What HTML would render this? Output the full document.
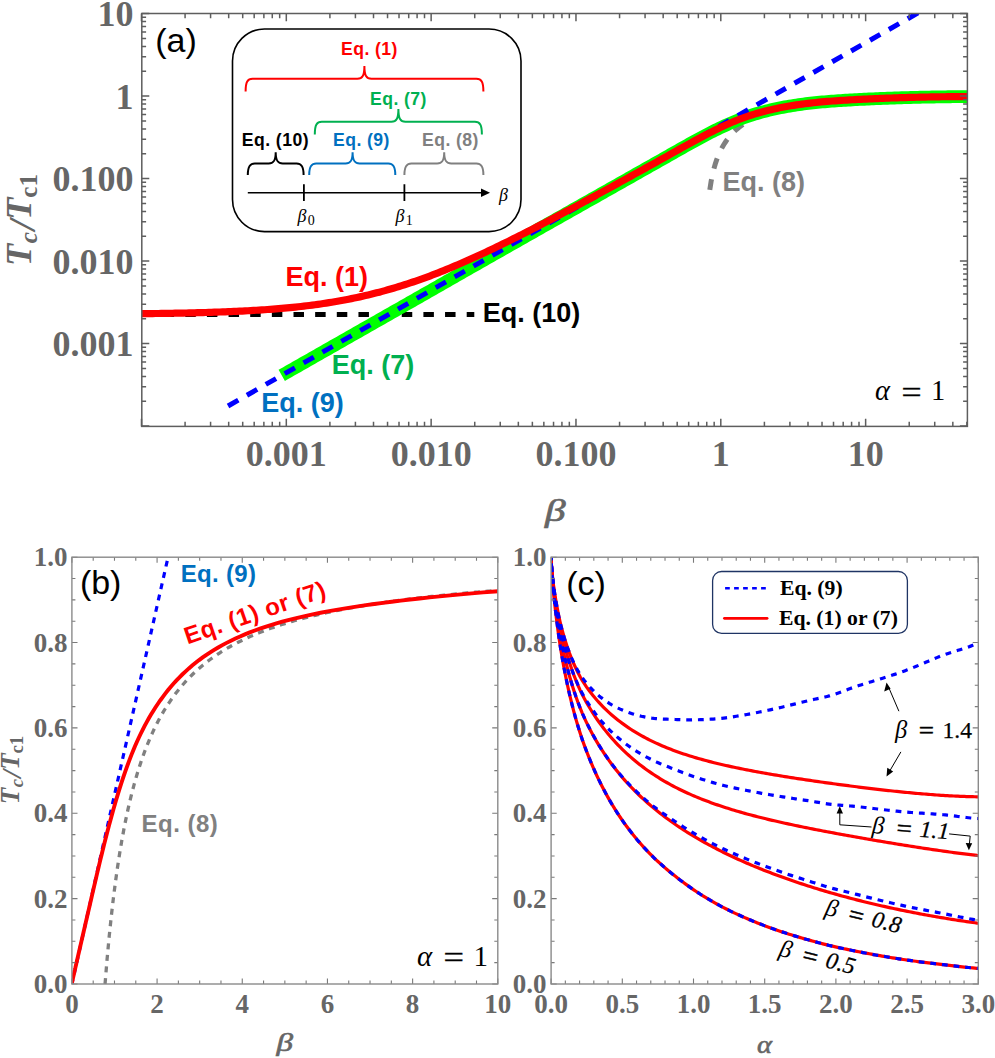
<!DOCTYPE html><html><head><meta charset="utf-8"><style>html,body{margin:0;padding:0;background:#fff;}svg{display:block;}</style></head><body><svg width="995" height="1058" viewBox="0 0 995 1058">
<rect width="995" height="1058" fill="#fff"/>
<defs><clipPath id="ca"><rect x="141.8" y="13.5" width="825.5999999999999" height="412.9"/></clipPath><clipPath id="cb"><rect x="71.9" y="557.2" width="425.9" height="426.79999999999995"/></clipPath><clipPath id="cc"><rect x="551.1" y="557.2" width="427.19999999999993" height="426.79999999999995"/></clipPath></defs>
<g clip-path="url(#ca)" fill="none">
<path d="M141.95,314.39 L474.3,314.39" stroke="#000" stroke-width="5" stroke-dasharray="10.5 11.15"/>
<path d="M709.79,189.80 L711.14,181.27 L712.49,174.52 L713.84,168.95 L715.19,164.22 L716.54,160.13 L717.89,156.54 L719.23,153.34 L720.58,150.46 L721.93,147.85 L723.28,145.47 L724.63,143.28 L725.98,141.26 L727.33,139.39 L728.68,137.65 L730.03,136.02 L731.38,134.50 L732.73,133.06 L734.08,131.72 L735.43,130.45 L736.78,129.24 L738.13,128.10 L739.48,127.02 L740.83,126.00 L742.18,125.02 L743.52,124.09 L744.87,123.20 L746.22,122.35 L747.57,121.53 L748.92,120.76 L750.27,120.01 L751.62,119.30 L752.97,118.61 L754.32,117.95 L755.67,117.32 L757.02,116.71 L758.37,116.12 L759.72,115.56 L761.07,115.01 L762.42,114.49 L763.77,113.98 L765.12,113.49 L766.47,113.02 L767.81,112.57 L769.16,112.12 L770.51,111.70 L771.86,111.29 L773.21,110.89 L774.56,110.50 L775.91,110.13 L777.26,109.76 L778.61,109.41 L779.96,109.07 L781.31,108.74 L782.66,108.42 L784.01,108.11 L785.36,107.81 L786.71,107.52 L788.06,107.23 L789.41,106.96 L790.76,106.69 L792.11,106.43 L793.45,106.17 L794.80,105.93 L796.15,105.69 L797.50,105.46 L798.85,105.23 L800.20,105.01 L801.55,104.80 L802.90,104.59 L804.25,104.38 L805.60,104.19 L806.95,104.00 L808.30,103.81 L809.65,103.63 L811.00,103.45 L812.35,103.28 L813.70,103.11 L815.05,102.94 L816.40,102.78 L817.74,102.63 L819.09,102.48 L820.44,102.33 L821.79,102.18 L823.14,102.04 L824.49,101.91 L825.84,101.77 L827.19,101.64 L828.54,101.52 L829.89,101.39 L831.24,101.27 L832.59,101.15 L833.94,101.04 L835.29,100.93 L836.64,100.82 L837.99,100.71 L839.34,100.61 L840.69,100.50 L842.03,100.40 L843.38,100.31 L844.73,100.21 L846.08,100.12 L847.43,100.03 L848.78,99.94 L850.13,99.86 L851.48,99.77 L852.83,99.69 L854.18,99.61 L855.53,99.53 L856.88,99.46 L858.23,99.38 L859.58,99.31 L860.93,99.24 L862.28,99.17 L863.63,99.10 L864.98,99.03 L866.33,98.97 L867.67,98.91 L869.02,98.84 L870.37,98.78 L871.72,98.72 L873.07,98.67 L874.42,98.61 L875.77,98.55 L877.12,98.50 L878.47,98.45 L879.82,98.40 L881.17,98.35 L882.52,98.30 L883.87,98.25 L885.22,98.20 L886.57,98.16 L887.92,98.11 L889.27,98.07 L890.62,98.02 L891.96,97.98 L893.31,97.94 L894.66,97.90 L896.01,97.86 L897.36,97.82 L898.71,97.79 L900.06,97.75 L901.41,97.71 L902.76,97.68 L904.11,97.64 L905.46,97.61 L906.81,97.58 L908.16,97.55 L909.51,97.52 L910.86,97.48 L912.21,97.45 L913.56,97.43 L914.91,97.40 L916.25,97.37 L917.60,97.34 L918.95,97.31 L920.30,97.29 L921.65,97.26 L923.00,97.24 L924.35,97.21 L925.70,97.19 L927.05,97.17 L928.40,97.14 L929.75,97.12 L931.10,97.10 L932.45,97.08 L933.80,97.06 L935.15,97.04 L936.50,97.02 L937.85,97.00 L939.20,96.98 L940.54,96.96 L941.89,96.94 L943.24,96.92 L944.59,96.90 L945.94,96.89 L947.29,96.87 L948.64,96.85 L949.99,96.84 L951.34,96.82 L952.69,96.81 L954.04,96.79 L955.39,96.78 L956.74,96.76 L958.09,96.75 L959.44,96.73 L960.79,96.72 L962.14,96.71 L963.49,96.69 L964.84,96.68 L966.18,96.67 L967.53,96.66 L968.88,96.64 L970.23,96.63 L971.58,96.62 L972.93,96.61 L974.28,96.60 L975.63,96.59 L976.98,96.58 L978.33,96.57" stroke="#808080" stroke-width="5" stroke-dasharray="10.8 10.8"/>
<path d="M281.75,375.37 L284.08,374.04 L286.40,372.72 L288.73,371.39 L291.06,370.06 L293.39,368.74 L295.72,367.41 L298.05,366.08 L300.38,364.76 L302.71,363.43 L305.04,362.10 L307.37,360.77 L309.70,359.45 L312.03,358.12 L314.36,356.79 L316.69,355.47 L319.02,354.14 L321.35,352.81 L323.68,351.48 L326.01,350.16 L328.34,348.83 L330.67,347.50 L333.00,346.18 L335.33,344.85 L337.66,343.52 L339.99,342.19 L342.32,340.87 L344.65,339.54 L346.98,338.21 L349.31,336.89 L351.64,335.56 L353.97,334.23 L356.30,332.91 L358.63,331.58 L360.96,330.25 L363.29,328.92 L365.62,327.60 L367.94,326.27 L370.27,324.94 L372.60,323.62 L374.93,322.29 L377.26,320.96 L379.59,319.63 L381.92,318.31 L384.25,316.98 L386.58,315.65 L388.91,314.33 L391.24,313.00 L393.57,311.67 L395.90,310.34 L398.23,309.02 L400.56,307.69 L402.89,306.36 L405.22,305.04 L407.55,303.71 L409.88,302.38 L412.21,301.06 L414.54,299.73 L416.87,298.40 L419.20,297.07 L421.53,295.75 L423.86,294.42 L426.19,293.09 L428.52,291.77 L430.85,290.44 L433.18,289.12 L435.51,287.78 L437.84,286.45 L440.17,285.11 L442.50,283.77 L444.83,282.44 L447.16,281.10 L449.48,279.77 L451.81,278.44 L454.14,277.10 L456.47,275.77 L458.80,274.44 L461.13,273.11 L463.46,271.78 L465.79,270.45 L468.12,269.12 L470.45,267.79 L472.78,266.46 L475.11,265.13 L477.44,263.81 L479.77,262.48 L482.10,261.15 L484.43,259.83 L486.76,258.50 L489.09,257.18 L491.42,255.85 L493.75,254.53 L496.08,253.21 L498.41,251.88 L500.74,250.56 L503.07,249.24 L505.40,247.91 L507.73,246.59 L510.06,245.27 L512.39,243.95 L514.72,242.63 L517.05,241.31 L519.38,239.99 L521.71,238.67 L524.04,237.35 L526.37,236.03 L528.69,234.71 L531.02,233.39 L533.35,232.07 L535.68,230.76 L538.01,229.44 L540.34,228.12 L542.67,226.80 L545.00,225.49 L547.33,224.17 L549.66,222.85 L551.99,221.54 L554.32,220.22 L556.65,218.90 L558.98,217.59 L561.31,216.27 L563.64,214.96 L565.97,213.64 L568.30,212.33 L570.63,211.01 L572.96,209.69 L575.29,208.38 L577.62,207.06 L579.95,205.75 L582.28,204.43 L584.61,203.12 L586.94,201.80 L589.27,200.49 L591.60,199.17 L593.93,197.86 L596.26,196.55 L598.59,195.23 L600.92,193.92 L603.25,192.60 L605.58,191.29 L607.91,189.97 L610.23,188.66 L612.56,187.34 L614.89,186.03 L617.22,184.71 L619.55,183.40 L621.88,182.08 L624.21,180.77 L626.54,179.45 L628.87,178.13 L631.20,176.82 L633.53,175.50 L635.86,174.19 L638.19,172.87 L640.52,171.55 L642.85,170.24 L645.18,168.92 L647.51,167.60 L649.84,166.29 L652.17,164.97 L654.50,163.65 L656.83,162.33 L659.16,161.02 L661.49,159.70 L663.82,158.38 L666.15,157.06 L668.48,155.74 L670.81,154.42 L673.14,153.10 L675.47,151.78 L677.80,150.46 L680.13,149.15 L682.46,147.83 L684.79,146.52 L687.12,145.22 L689.45,143.92 L691.77,142.63 L694.10,141.34 L696.43,140.07 L698.76,138.80 L701.09,137.55 L703.42,136.31 L705.75,135.08 L708.08,133.87 L710.41,132.67 L712.74,131.49 L715.07,130.33 L717.40,129.18 L719.73,128.06 L722.06,126.95 L724.39,125.87 L726.72,124.81 L729.05,123.77 L731.38,122.76 L733.71,121.77 L736.04,120.81 L738.37,119.88 L740.70,118.98 L743.03,118.11 L745.36,117.27 L747.69,116.45 L750.02,115.67 L752.35,114.92 L754.68,114.20 L757.01,113.50 L759.34,112.83 L761.67,112.18 L764.00,111.56 L766.33,110.96 L768.66,110.38 L770.99,109.83 L773.31,109.29 L775.64,108.78 L777.97,108.28 L780.30,107.81 L782.63,107.35 L784.96,106.91 L787.29,106.49 L789.62,106.09 L791.95,105.70 L794.28,105.33 L796.61,104.98 L798.94,104.64 L801.27,104.32 L803.60,104.01 L805.93,103.71 L808.26,103.43 L810.59,103.16 L812.92,102.90 L815.25,102.65 L817.58,102.42 L819.91,102.19 L822.24,101.98 L824.57,101.77 L826.90,101.58 L829.23,101.39 L831.56,101.21 L833.89,101.04 L836.22,100.87 L838.55,100.71 L840.88,100.56 L843.21,100.41 L845.54,100.26 L847.87,100.12 L850.20,99.99 L852.53,99.85 L854.85,99.72 L857.18,99.60 L859.51,99.47 L861.84,99.35 L864.17,99.24 L866.50,99.12 L868.83,99.01 L871.16,98.90 L873.49,98.80 L875.82,98.70 L878.15,98.60 L880.48,98.50 L882.81,98.41 L885.14,98.32 L887.47,98.23 L889.80,98.14 L892.13,98.06 L894.46,97.98 L896.79,97.90 L899.12,97.83 L901.45,97.75 L903.78,97.68 L906.11,97.62 L908.44,97.55 L910.77,97.49 L913.10,97.43 L915.43,97.37 L917.76,97.31 L920.09,97.26 L922.42,97.21 L924.75,97.16 L927.08,97.11 L929.41,97.06 L931.74,97.02 L934.07,96.98 L936.39,96.94 L938.72,96.90 L941.05,96.86 L943.38,96.83 L945.71,96.80 L948.04,96.77 L950.37,96.74 L952.70,96.71 L955.03,96.68 L957.36,96.66 L959.69,96.63 L962.02,96.61 L964.35,96.59 L966.68,96.57 L969.01,96.55 L971.34,96.54 L973.67,96.52 L976.00,96.51 L978.33,96.49" stroke="#00ff00" stroke-width="12.8" stroke-linecap="butt"/>
<path d="M228.04,405.96 L923.26,9.94" stroke="#0000ff" stroke-width="5" stroke-dasharray="11.8 9.93"/>
<path d="M141.48,313.69 L144.28,313.66 L147.08,313.63 L149.88,313.59 L152.68,313.56 L155.47,313.52 L158.27,313.48 L161.07,313.44 L163.87,313.40 L166.67,313.35 L169.47,313.31 L172.27,313.26 L175.07,313.21 L177.86,313.16 L180.66,313.10 L183.46,313.04 L186.26,312.98 L189.06,312.92 L191.86,312.85 L194.66,312.79 L197.46,312.72 L200.26,312.64 L203.05,312.56 L205.85,312.48 L208.65,312.40 L211.45,312.31 L214.25,312.22 L217.05,312.12 L219.85,312.02 L222.65,311.92 L225.44,311.81 L228.24,311.70 L231.04,311.58 L233.84,311.46 L236.64,311.33 L239.44,311.20 L242.24,311.06 L245.04,310.92 L247.84,310.77 L250.63,310.61 L253.43,310.45 L256.23,310.28 L259.03,310.10 L261.83,309.92 L264.63,309.73 L267.43,309.53 L270.23,309.32 L273.02,309.11 L275.82,308.89 L278.62,308.65 L281.42,308.41 L284.22,308.17 L287.02,307.91 L289.82,307.64 L292.62,307.36 L295.42,307.07 L298.21,306.77 L301.01,306.46 L303.81,306.14 L306.61,305.80 L309.41,305.46 L312.21,305.10 L315.01,304.73 L317.81,304.35 L320.61,303.95 L323.40,303.54 L326.20,303.12 L329.00,302.68 L331.80,302.23 L334.60,301.76 L337.40,301.28 L340.20,300.79 L343.00,300.27 L345.79,299.75 L348.59,299.20 L351.39,298.65 L354.19,298.07 L356.99,297.48 L359.79,296.87 L362.59,296.25 L365.39,295.60 L368.19,294.95 L370.98,294.27 L373.78,293.58 L376.58,292.86 L379.38,292.14 L382.18,291.39 L384.98,290.62 L387.78,289.84 L390.58,289.04 L393.37,288.23 L396.17,287.39 L398.97,286.54 L401.77,285.67 L404.57,284.78 L407.37,283.88 L410.17,282.95 L412.97,282.01 L415.77,281.06 L418.56,280.08 L421.36,279.09 L424.16,278.08 L426.96,277.06 L429.76,276.02 L432.56,274.97 L435.36,273.89 L438.16,272.80 L440.95,271.69 L443.75,270.56 L446.55,269.42 L449.35,268.27 L452.15,267.10 L454.95,265.92 L457.75,264.73 L460.55,263.53 L463.35,262.31 L466.14,261.08 L468.94,259.83 L471.74,258.58 L474.54,257.32 L477.34,256.04 L480.14,254.75 L482.94,253.46 L485.74,252.15 L488.53,250.83 L491.33,249.51 L494.13,248.17 L496.93,246.83 L499.73,245.47 L502.53,244.11 L505.33,242.74 L508.13,241.37 L510.93,239.98 L513.72,238.59 L516.52,237.19 L519.32,235.78 L522.12,234.37 L524.92,232.95 L527.72,231.53 L530.52,230.10 L533.32,228.66 L536.11,227.22 L538.91,225.77 L541.71,224.32 L544.51,222.87 L547.31,221.40 L550.11,219.94 L552.91,218.47 L555.71,216.99 L558.51,215.51 L561.30,214.03 L564.10,212.54 L566.90,211.05 L569.70,209.56 L572.50,208.06 L575.30,206.56 L578.10,205.06 L580.90,203.55 L583.69,202.04 L586.49,200.53 L589.29,199.01 L592.09,197.50 L594.89,195.98 L597.69,194.45 L600.49,192.93 L603.29,191.40 L606.09,189.87 L608.88,188.34 L611.68,186.81 L614.48,185.27 L617.28,183.73 L620.08,182.19 L622.88,180.65 L625.68,179.11 L628.48,177.56 L631.27,176.02 L634.07,174.47 L636.87,172.92 L639.67,171.37 L642.47,169.81 L645.27,168.26 L648.07,166.70 L650.87,165.15 L653.67,163.59 L656.46,162.03 L659.26,160.47 L662.06,158.90 L664.86,157.34 L667.66,155.77 L670.46,154.21 L673.26,152.64 L676.06,151.07 L678.86,149.50 L681.65,147.94 L684.45,146.38 L687.25,144.82 L690.05,143.28 L692.85,141.74 L695.65,140.22 L698.45,138.71 L701.25,137.21 L704.04,135.74 L706.84,134.28 L709.64,132.84 L712.44,131.43 L715.24,130.04 L718.04,128.67 L720.84,127.34 L723.64,126.03 L726.44,124.76 L729.23,123.52 L732.03,122.31 L734.83,121.15 L737.63,120.02 L740.43,118.93 L743.23,117.89 L746.03,116.89 L748.83,115.93 L751.62,115.01 L754.42,114.14 L757.22,113.31 L760.02,112.51 L762.82,111.75 L765.62,111.02 L768.42,110.32 L771.22,109.65 L774.02,109.02 L776.81,108.41 L779.61,107.83 L782.41,107.28 L785.21,106.76 L788.01,106.26 L790.81,105.78 L793.61,105.33 L796.41,104.91 L799.20,104.50 L802.00,104.12 L804.80,103.75 L807.60,103.41 L810.40,103.08 L813.20,102.77 L816.00,102.48 L818.80,102.20 L821.60,101.94 L824.39,101.69 L827.19,101.46 L829.99,101.24 L832.79,101.02 L835.59,100.82 L838.39,100.63 L841.19,100.44 L843.99,100.27 L846.78,100.10 L849.58,99.93 L852.38,99.77 L855.18,99.62 L857.98,99.46 L860.78,99.32 L863.58,99.18 L866.38,99.04 L869.18,98.91 L871.97,98.78 L874.77,98.65 L877.57,98.53 L880.37,98.42 L883.17,98.31 L885.97,98.20 L888.77,98.09 L891.57,97.99 L894.36,97.90 L897.16,97.81 L899.96,97.72 L902.76,97.63 L905.56,97.55 L908.36,97.47 L911.16,97.39 L913.96,97.32 L916.76,97.25 L919.55,97.19 L922.35,97.13 L925.15,97.07 L927.95,97.01 L930.75,96.96 L933.55,96.90 L936.35,96.86 L939.15,96.81 L941.94,96.77 L944.74,96.73 L947.54,96.69 L950.34,96.65 L953.14,96.62 L955.94,96.59 L958.74,96.56 L961.54,96.53 L964.34,96.51 L967.13,96.49 L969.93,96.46 L972.73,96.45 L975.53,96.43 L978.33,96.41" stroke="#ff0000" stroke-width="7.2"/>
</g>
<g clip-path="url(#cb)" fill="none">
<path d="M105.04,984.00 L107.12,958.78 L109.20,936.38 L111.28,916.34 L113.36,898.32 L115.44,882.02 L117.52,867.20 L119.60,853.68 L121.68,841.29 L123.76,829.89 L125.84,819.37 L127.92,809.63 L130.00,800.59 L132.08,792.18 L134.16,784.33 L136.25,776.98 L138.33,770.10 L140.41,763.63 L142.49,757.55 L144.57,751.81 L146.65,746.39 L148.73,741.27 L150.81,736.42 L152.89,731.81 L154.97,727.44 L157.05,723.28 L159.13,719.32 L161.21,715.54 L163.29,711.94 L165.38,708.49 L167.46,705.20 L169.54,702.04 L171.62,699.02 L173.70,696.12 L175.78,693.34 L177.86,690.67 L179.94,688.10 L182.02,685.62 L184.10,683.24 L186.18,680.95 L188.26,678.73 L190.34,676.60 L192.42,674.54 L194.51,672.55 L196.59,670.62 L198.67,668.76 L200.75,666.96 L202.83,665.21 L204.91,663.52 L206.99,661.89 L209.07,660.30 L211.15,658.76 L213.23,657.26 L215.31,655.81 L217.39,654.40 L219.47,653.03 L221.55,651.70 L223.64,650.40 L225.72,649.14 L227.80,647.91 L229.88,646.72 L231.96,645.56 L234.04,644.42 L236.12,643.32 L238.20,642.24 L240.28,641.19 L242.36,640.16 L244.44,639.16 L246.52,638.19 L248.60,637.23 L250.68,636.30 L252.76,635.39 L254.85,634.50 L256.93,633.63 L259.01,632.78 L261.09,631.95 L263.17,631.14 L265.25,630.34 L267.33,629.56 L269.41,628.80 L271.49,628.05 L273.57,627.32 L275.65,626.61 L277.73,625.91 L279.81,625.22 L281.89,624.54 L283.98,623.88 L286.06,623.24 L288.14,622.60 L290.22,621.98 L292.30,621.37 L294.38,620.77 L296.46,620.18 L298.54,619.60 L300.62,619.03 L302.70,618.47 L304.78,617.93 L306.86,617.39 L308.94,616.86 L311.02,616.34 L313.11,615.83 L315.19,615.33 L317.27,614.84 L319.35,614.35 L321.43,613.88 L323.51,613.41 L325.59,612.95 L327.67,612.49 L329.75,612.05 L331.83,611.61 L333.91,611.17 L335.99,610.75 L338.07,610.33 L340.15,609.92 L342.24,609.51 L344.32,609.11 L346.40,608.72 L348.48,608.33 L350.56,607.95 L352.64,607.57 L354.72,607.20 L356.80,606.84 L358.88,606.48 L360.96,606.12 L363.04,605.77 L365.12,605.43 L367.20,605.09 L369.28,604.75 L371.37,604.42 L373.45,604.10 L375.53,603.78 L377.61,603.46 L379.69,603.15 L381.77,602.84 L383.85,602.53 L385.93,602.23 L388.01,601.94 L390.09,601.65 L392.17,601.36 L394.25,601.07 L396.33,600.79 L398.41,600.51 L400.49,600.24 L402.58,599.97 L404.66,599.70 L406.74,599.44 L408.82,599.17 L410.90,598.92 L412.98,598.66 L415.06,598.41 L417.14,598.16 L419.22,597.92 L421.30,597.67 L423.38,597.44 L425.46,597.20 L427.54,596.96 L429.62,596.73 L431.71,596.50 L433.79,596.28 L435.87,596.06 L437.95,595.83 L440.03,595.62 L442.11,595.40 L444.19,595.19 L446.27,594.98 L448.35,594.77 L450.43,594.56 L452.51,594.36 L454.59,594.15 L456.67,593.95 L458.75,593.76 L460.84,593.56 L462.92,593.37 L465.00,593.18 L467.08,592.99 L469.16,592.80 L471.24,592.61 L473.32,592.43 L475.40,592.25 L477.48,592.07 L479.56,591.89 L481.64,591.71 L483.72,591.54 L485.80,591.37 L487.88,591.20 L489.97,591.03 L492.05,590.86 L494.13,590.69 L496.21,590.53 L498.29,590.37 L500.37,590.21 L502.45,590.05 L504.53,589.89 L506.61,589.73 L508.69,589.58 L510.77,589.42 L512.85,589.27 L514.93,589.12 L517.01,588.97 L519.10,588.82" stroke="#808080" stroke-width="3.3" stroke-dasharray="6 5.6"/>
<path d="M71.90,984.00 L169.86,549.13" stroke="#0000ff" stroke-width="3.2" stroke-dasharray="5.85 5.75" stroke-dashoffset="1.22"/>
<path d="M71.90,983.04 L72.01,982.56 L72.11,982.09 L72.22,981.62 L72.33,981.15 L72.34,981.09 L72.35,981.04 L72.36,980.98 L72.38,980.92 L72.39,980.86 L72.40,980.80 L72.42,980.73 L72.43,980.67 L72.45,980.60 L72.46,980.53 L72.48,980.46 L72.50,980.39 L72.51,980.31 L72.53,980.23 L72.55,980.15 L72.57,980.07 L72.58,979.99 L72.60,979.90 L72.62,979.81 L72.64,979.72 L72.67,979.63 L72.69,979.53 L72.71,979.43 L72.73,979.33 L72.76,979.22 L72.78,979.12 L72.81,979.01 L72.83,978.89 L72.86,978.77 L72.88,978.65 L72.91,978.53 L72.94,978.40 L72.97,978.27 L73.00,978.14 L73.03,978.00 L73.06,977.86 L73.10,977.71 L73.13,977.56 L73.17,977.40 L73.20,977.24 L73.24,977.08 L73.28,976.91 L73.32,976.74 L73.36,976.56 L73.40,976.38 L73.44,976.19 L73.48,976.00 L73.53,975.80 L73.57,975.60 L73.62,975.39 L73.67,975.17 L73.72,974.95 L73.77,974.72 L73.83,974.49 L73.88,974.25 L73.94,974.00 L73.99,973.75 L74.05,973.48 L74.11,973.22 L74.18,972.94 L74.24,972.66 L74.31,972.36 L74.38,972.06 L74.45,971.76 L74.52,971.44 L74.59,971.11 L74.67,970.78 L74.75,970.43 L74.83,970.08 L74.91,969.71 L75.00,969.34 L75.08,968.95 L75.17,968.56 L75.27,968.15 L75.36,967.73 L75.46,967.31 L75.56,966.86 L75.66,966.41 L75.77,965.94 L75.88,965.46 L75.99,964.97 L76.11,964.46 L76.23,963.94 L76.35,963.40 L76.48,962.85 L76.61,962.29 L76.74,961.70 L76.88,961.11 L77.02,960.49 L77.16,959.86 L77.31,959.21 L77.47,958.54 L77.62,957.85 L77.79,957.14 L77.95,956.42 L78.12,955.67 L78.30,954.90 L78.48,954.11 L78.67,953.30 L78.86,952.47 L79.06,951.61 L79.26,950.73 L79.47,949.82 L79.68,948.89 L79.90,947.93 L80.13,946.94 L80.36,945.93 L80.60,944.89 L80.85,943.82 L81.10,942.72 L81.36,941.58 L81.63,940.42 L81.91,939.22 L82.19,937.99 L82.48,936.73 L82.78,935.43 L83.09,934.09 L83.41,932.71 L83.74,931.30 L84.07,929.84 L84.42,928.35 L84.77,926.81 L85.13,925.23 L85.51,923.61 L85.89,921.93 L86.29,920.22 L86.70,918.45 L87.12,916.63 L87.55,914.76 L87.99,912.84 L88.45,910.87 L88.92,908.84 L89.40,906.75 L89.90,904.60 L90.41,902.39 L90.93,900.12 L91.47,897.78 L92.02,895.38 L92.59,892.91 L93.18,890.37 L93.78,887.77 L94.40,885.09 L95.04,882.34 L95.70,879.53 L96.37,876.64 L97.06,873.68 L97.78,870.65 L98.51,867.55 L99.26,864.38 L100.04,861.14 L100.84,857.83 L101.66,854.45 L102.50,851.00 L103.37,847.49 L104.26,843.90 L105.17,840.26 L106.12,836.55 L107.09,832.78 L108.08,828.96 L109.11,825.07 L110.16,821.14 L111.25,817.15 L112.36,813.12 L113.51,809.04 L114.69,804.92 L115.90,800.77 L117.14,796.58 L118.43,792.37 L119.74,788.14 L121.10,783.88 L122.49,779.62 L123.93,775.35 L125.40,771.08 L126.92,766.82 L128.48,762.57 L130.08,758.34 L131.73,754.14 L133.42,749.97 L135.17,745.85 L136.96,741.77 L138.80,737.73 L140.70,733.75 L142.65,729.81 L144.65,725.93 L146.71,722.10 L148.83,718.32 L151.01,714.59 L153.25,710.92 L155.56,707.30 L157.93,703.74 L160.36,700.23 L162.87,696.78 L165.45,693.39 L168.10,690.05 L170.82,686.77 L173.63,683.55 L176.51,680.40 L179.47,677.31 L182.52,674.27 L185.65,671.31 L188.88,668.40 L192.19,665.56 L195.60,662.79 L199.10,660.08 L202.71,657.43 L206.41,654.84 L210.22,652.32 L214.14,649.87 L218.17,647.47 L222.32,645.14 L226.58,642.87 L230.96,640.66 L235.47,638.52 L240.10,636.43 L244.87,634.40 L249.77,632.43 L254.81,630.51 L259.99,628.65 L265.32,626.84 L270.80,625.09 L276.43,623.39 L282.23,621.73 L288.19,620.13 L294.32,618.57 L300.62,617.05 L307.10,615.58 L313.76,614.15 L320.61,612.76 L327.66,611.41 L334.91,610.10 L342.36,608.81 L350.02,607.56 L357.90,606.34 L366.00,605.15 L374.33,603.98 L382.90,602.84 L391.71,601.72 L400.77,600.61 L410.09,599.53 L419.67,598.46 L429.53,597.41 L439.66,596.37 L450.08,595.36 L460.79,594.36 L471.81,593.37 L483.14,592.41 L494.79,591.46 L506.77,590.52 L519.10,589.61" stroke="#ff0000" stroke-width="3.9"/>
</g>
<g clip-path="url(#cc)" fill="none">
<path d="M551.10,557.20 L551.34,563.80 L551.58,568.10 L551.82,571.80 L552.07,575.17 L552.31,578.31 L552.55,581.27 L552.79,584.11 L553.03,586.83 L553.27,589.47 L553.51,592.04 L553.75,594.52 L554.00,596.94 L554.24,599.29 L554.48,601.58 L554.72,603.81 L554.96,606.00 L555.20,608.14 L555.44,610.23 L555.69,612.28 L555.93,614.29 L556.17,616.27 L556.41,618.21 L556.65,620.12 L556.89,622.02 L557.13,623.91 L557.38,625.78 L557.62,627.64 L557.86,629.48 L558.10,631.29 L558.34,633.08 L558.58,634.83 L558.82,636.55 L559.06,638.24 L559.31,639.88 L559.55,641.48 L559.79,643.06 L560.03,644.62 L560.27,646.16 L560.51,647.68 L560.75,649.19 L561.00,650.67 L561.24,652.14 L561.48,653.59 L561.72,655.02 L561.96,656.44 L562.20,657.84 L562.44,659.22 L562.69,660.59 L562.93,661.95 L563.17,663.29 L563.41,664.61 L563.65,665.93 L563.89,667.23 L564.13,668.51 L564.37,669.78 L564.62,671.04 L564.86,672.29 L565.10,673.52 L565.34,674.75 L567.45,684.97 L569.56,694.41 L571.67,703.19 L573.78,711.39 L575.89,719.06 L578.01,726.27 L580.12,733.04 L582.23,739.39 L584.34,745.37 L586.45,751.03 L588.56,756.41 L590.67,761.57 L592.78,766.54 L594.89,771.35 L597.00,775.97 L599.12,780.42 L601.23,784.69 L603.34,788.82 L605.45,792.80 L607.56,796.64 L609.67,800.35 L611.78,803.95 L613.89,807.43 L616.00,810.80 L618.11,814.07 L620.22,817.25 L622.34,820.33 L624.45,823.33 L626.56,826.24 L628.67,829.07 L630.78,831.82 L632.89,834.50 L635.00,837.11 L637.11,839.65 L639.22,842.13 L641.33,844.54 L643.45,846.89 L645.56,849.18 L647.67,851.41 L649.78,853.59 L651.89,855.72 L654.00,857.78 L656.11,859.79 L658.22,861.75 L660.33,863.67 L662.44,865.54 L664.55,867.38 L666.67,869.18 L668.78,870.94 L670.89,872.69 L673.00,874.40 L675.11,876.09 L677.22,877.76 L679.33,879.40 L681.44,881.01 L683.55,882.59 L685.66,884.15 L687.78,885.67 L689.89,887.17 L692.00,888.63 L694.11,890.07 L696.22,891.47 L698.33,892.86 L700.44,894.22 L702.55,895.55 L704.66,896.87 L706.77,898.16 L708.88,899.42 L711.00,900.66 L713.11,901.88 L715.22,903.08 L717.33,904.26 L719.44,905.41 L721.55,906.54 L723.66,907.64 L725.77,908.73 L727.88,909.79 L729.99,910.83 L732.11,911.85 L734.22,912.86 L736.33,913.85 L738.44,914.82 L740.55,915.78 L742.66,916.72 L744.77,917.65 L746.88,918.56 L748.99,919.46 L751.10,920.34 L753.21,921.22 L755.33,922.07 L757.44,922.92 L759.55,923.75 L761.66,924.57 L763.77,925.38 L765.88,926.17 L767.99,926.95 L770.10,927.72 L772.21,928.48 L774.32,929.23 L776.44,929.97 L778.55,930.69 L780.66,931.41 L782.77,932.11 L784.88,932.80 L786.99,933.49 L789.10,934.16 L791.21,934.83 L793.32,935.48 L795.43,936.13 L797.55,936.77 L799.66,937.39 L801.77,938.01 L803.88,938.62 L805.99,939.23 L808.10,939.82 L810.21,940.41 L812.32,941.00 L814.43,941.58 L816.54,942.16 L818.65,942.73 L820.77,943.29 L822.88,943.84 L824.99,944.39 L827.10,944.91 L829.21,945.43 L831.32,945.93 L833.43,946.43 L835.54,946.91 L837.65,947.38 L839.76,947.84 L841.88,948.29 L843.99,948.74 L846.10,949.18 L848.21,949.61 L850.32,950.04 L852.43,950.47 L854.54,950.89 L856.65,951.31 L858.76,951.73 L860.87,952.15 L862.98,952.57 L865.10,952.98 L867.21,953.38 L869.32,953.78 L871.43,954.18 L873.54,954.57 L875.65,954.95 L877.76,955.33 L879.87,955.70 L881.98,956.07 L884.09,956.43 L886.21,956.79 L888.32,957.14 L890.43,957.49 L892.54,957.84 L894.65,958.17 L896.76,958.51 L898.87,958.83 L900.98,959.16 L903.09,959.47 L905.20,959.79 L907.31,960.09 L909.43,960.39 L911.54,960.69 L913.65,960.98 L915.76,961.27 L917.87,961.55 L919.98,961.83 L922.09,962.10 L924.20,962.37 L926.31,962.64 L928.42,962.91 L930.54,963.17 L932.65,963.43 L934.76,963.69 L936.87,963.94 L938.98,964.19 L941.09,964.44 L943.20,964.69 L945.31,964.94 L947.42,965.19 L949.53,965.43 L951.64,965.68 L953.76,965.92 L955.87,966.16 L957.98,966.39 L960.09,966.63 L962.20,966.86 L964.31,967.08 L966.42,967.30 L968.53,967.52 L970.64,967.73 L972.75,967.94 L974.87,968.14 L976.98,968.34 L979.09,968.46 L981.20,968.46 L983.31,968.46 L985.42,968.46" stroke="#ff0000" stroke-width="3.2"/>
<path d="M551.10,557.20 L551.34,563.43 L551.58,567.39 L551.82,570.77 L552.07,573.82 L552.31,576.65 L552.55,579.30 L552.79,581.83 L553.03,584.26 L553.27,586.60 L553.51,588.87 L553.75,591.07 L554.00,593.19 L554.24,595.26 L554.48,597.27 L554.72,599.22 L554.96,601.13 L555.20,602.99 L555.44,604.82 L555.69,606.60 L555.93,608.34 L556.17,610.05 L556.41,611.73 L556.65,613.38 L556.89,615.03 L557.13,616.66 L557.38,618.29 L557.62,619.90 L557.86,621.49 L558.10,623.05 L558.34,624.60 L558.58,626.11 L558.82,627.59 L559.06,629.03 L559.31,630.44 L559.55,631.80 L559.79,633.15 L560.03,634.48 L560.27,635.79 L560.51,637.09 L560.75,638.36 L561.00,639.62 L561.24,640.87 L561.48,642.09 L561.72,643.31 L561.96,644.50 L562.20,645.69 L562.44,646.86 L562.69,648.01 L562.93,649.15 L563.17,650.28 L563.41,651.40 L563.65,652.50 L563.89,653.59 L564.13,654.67 L564.37,655.74 L564.62,656.80 L564.86,657.84 L565.10,658.88 L565.34,659.90 L567.45,668.42 L569.56,676.26 L571.67,683.52 L573.78,690.26 L575.89,696.56 L578.01,702.45 L580.12,707.95 L582.23,713.06 L584.34,717.84 L586.45,722.34 L588.56,726.62 L590.67,730.71 L592.78,734.65 L594.89,738.45 L597.00,742.09 L599.12,745.60 L601.23,748.97 L603.34,752.23 L605.45,755.38 L607.56,758.43 L609.67,761.38 L611.78,764.25 L613.89,767.04 L616.00,769.74 L618.11,772.37 L620.22,774.93 L622.34,777.42 L624.45,779.85 L626.56,782.21 L628.67,784.52 L630.78,786.77 L632.89,788.96 L635.00,791.10 L637.11,793.19 L639.22,795.24 L641.33,797.24 L643.45,799.19 L645.56,801.11 L647.67,802.98 L649.78,804.82 L651.89,806.61 L654.00,808.37 L656.11,810.10 L658.22,811.80 L660.33,813.46 L662.44,815.09 L664.55,816.69 L666.67,818.26 L668.78,819.80 L670.89,821.32 L673.00,822.81 L675.11,824.27 L677.22,825.71 L679.33,827.13 L681.44,828.52 L683.55,829.90 L685.66,831.25 L687.78,832.57 L689.89,833.88 L692.00,835.17 L694.11,836.44 L696.22,837.69 L698.33,838.92 L700.44,840.14 L702.55,841.33 L704.66,842.51 L706.77,843.68 L708.88,844.82 L711.00,845.96 L713.11,847.07 L715.22,848.18 L717.33,849.26 L719.44,850.34 L721.55,851.40 L723.66,852.45 L725.77,853.48 L727.88,854.50 L729.99,855.51 L732.11,856.51 L734.22,857.49 L736.33,858.46 L738.44,859.42 L740.55,860.37 L742.66,861.31 L744.77,862.24 L746.88,863.16 L748.99,864.07 L751.10,864.96 L753.21,865.85 L755.33,866.73 L757.44,867.59 L759.55,868.45 L761.66,869.30 L763.77,870.14 L765.88,870.97 L767.99,871.80 L770.10,872.61 L772.21,873.41 L774.32,874.21 L776.44,875.00 L778.55,875.78 L780.66,876.55 L782.77,877.32 L784.88,878.07 L786.99,878.82 L789.10,879.56 L791.21,880.30 L793.32,881.02 L795.43,881.74 L797.55,882.46 L799.66,883.16 L801.77,883.86 L803.88,884.55 L805.99,885.24 L808.10,885.92 L810.21,886.59 L812.32,887.25 L814.43,887.91 L816.54,888.56 L818.65,889.21 L820.77,889.85 L822.88,890.48 L824.99,891.11 L827.10,891.73 L829.21,892.35 L831.32,892.96 L833.43,893.56 L835.54,894.16 L837.65,894.75 L839.76,895.34 L841.88,895.92 L843.99,896.49 L846.10,897.06 L848.21,897.63 L850.32,898.19 L852.43,898.74 L854.54,899.29 L856.65,899.83 L858.76,900.37 L860.87,900.90 L862.98,901.43 L865.10,901.95 L867.21,902.46 L869.32,902.98 L871.43,903.48 L873.54,903.98 L875.65,904.48 L877.76,904.97 L879.87,905.46 L881.98,905.94 L884.09,906.42 L886.21,906.89 L888.32,907.36 L890.43,907.82 L892.54,908.28 L894.65,908.73 L896.76,909.18 L898.87,909.62 L900.98,910.06 L903.09,910.50 L905.20,910.93 L907.31,911.35 L909.43,911.78 L911.54,912.19 L913.65,912.61 L915.76,913.01 L917.87,913.42 L919.98,913.82 L922.09,914.21 L924.20,914.60 L926.31,914.99 L928.42,915.37 L930.54,915.75 L932.65,916.12 L934.76,916.49 L936.87,916.86 L938.98,917.22 L941.09,917.58 L943.20,917.93 L945.31,918.28 L947.42,918.63 L949.53,918.97 L951.64,919.31 L953.76,919.64 L955.87,919.97 L957.98,920.30 L960.09,920.62 L962.20,920.94 L964.31,921.25 L966.42,921.56 L968.53,921.87 L970.64,922.17 L972.75,922.47 L974.87,922.77 L976.98,923.06 L979.09,923.24 L981.20,923.24 L983.31,923.24 L985.42,923.24" stroke="#ff0000" stroke-width="3.2"/>
<path d="M551.10,557.20 L551.34,563.76 L551.58,567.58 L551.82,570.75 L552.07,573.57 L552.31,576.15 L552.55,578.55 L552.79,580.82 L553.03,582.99 L553.27,585.08 L553.51,587.09 L553.75,589.04 L554.00,590.91 L554.24,592.73 L554.48,594.49 L554.72,596.21 L554.96,597.87 L555.20,599.50 L555.44,601.09 L555.69,602.64 L555.93,604.15 L556.17,605.64 L556.41,607.09 L556.65,608.53 L556.89,609.95 L557.13,611.38 L557.38,612.79 L557.62,614.19 L557.86,615.58 L558.10,616.94 L558.34,618.29 L558.58,619.60 L558.82,620.89 L559.06,622.14 L559.31,623.35 L559.55,624.53 L559.79,625.69 L560.03,626.84 L560.27,627.97 L560.51,629.08 L560.75,630.18 L561.00,631.26 L561.24,632.33 L561.48,633.39 L561.72,634.43 L561.96,635.46 L562.20,636.48 L562.44,637.49 L562.69,638.48 L562.93,639.46 L563.17,640.43 L563.41,641.39 L563.65,642.34 L563.89,643.28 L564.13,644.21 L564.37,645.13 L564.62,646.03 L564.86,646.93 L565.10,647.82 L565.34,648.70 L567.45,656.03 L569.56,662.78 L571.67,669.02 L573.78,674.83 L575.89,680.26 L578.01,685.34 L580.12,690.08 L582.23,694.46 L584.34,698.55 L586.45,702.40 L588.56,706.05 L590.67,709.54 L592.78,712.91 L594.89,716.16 L597.00,719.28 L599.12,722.27 L601.23,725.16 L603.34,727.94 L605.45,730.63 L607.56,733.22 L609.67,735.74 L611.78,738.18 L613.89,740.55 L616.00,742.84 L618.11,745.07 L620.22,747.23 L622.34,749.33 L624.45,751.37 L626.56,753.35 L628.67,755.28 L630.78,757.15 L632.89,758.97 L635.00,760.74 L637.11,762.47 L639.22,764.15 L641.33,765.78 L643.45,767.38 L645.56,768.93 L647.67,770.44 L649.78,771.92 L651.89,773.36 L654.00,774.76 L656.11,776.13 L658.22,777.46 L660.33,778.77 L662.44,780.04 L664.55,781.28 L666.67,782.49 L668.78,783.68 L670.89,784.83 L673.00,785.97 L675.11,787.07 L677.22,788.15 L679.33,789.21 L681.44,790.24 L683.55,791.25 L685.66,792.24 L687.78,793.21 L689.89,794.16 L692.00,795.09 L694.11,796.00 L696.22,796.89 L698.33,797.76 L700.44,798.61 L702.55,799.45 L704.66,800.27 L706.77,801.08 L708.88,801.87 L711.00,802.64 L713.11,803.40 L715.22,804.15 L717.33,804.88 L719.44,805.60 L721.55,806.30 L723.66,807.00 L725.77,807.68 L727.88,808.35 L729.99,809.01 L732.11,809.66 L734.22,810.30 L736.33,810.92 L738.44,811.54 L740.55,812.15 L742.66,812.75 L744.77,813.34 L746.88,813.92 L748.99,814.49 L751.10,815.06 L753.21,815.62 L755.33,816.16 L757.44,816.71 L759.55,817.24 L761.66,817.77 L763.77,818.29 L765.88,818.81 L767.99,819.32 L770.10,819.82 L772.21,820.32 L774.32,820.81 L776.44,821.29 L778.55,821.77 L780.66,822.25 L782.77,822.72 L784.88,823.19 L786.99,823.65 L789.10,824.11 L791.21,824.56 L793.32,825.01 L795.43,825.46 L797.55,825.90 L799.66,826.34 L801.77,826.77 L803.88,827.20 L805.99,827.63 L808.10,828.05 L810.21,828.48 L812.32,828.89 L814.43,829.31 L816.54,829.72 L818.65,830.13 L820.77,830.54 L822.88,830.95 L824.99,831.35 L827.10,831.75 L829.21,832.15 L831.32,832.55 L833.43,832.94 L835.54,833.33 L837.65,833.72 L839.76,834.11 L841.88,834.50 L843.99,834.88 L846.10,835.27 L848.21,835.65 L850.32,836.03 L852.43,836.40 L854.54,836.78 L856.65,837.15 L858.76,837.53 L860.87,837.90 L862.98,838.27 L865.10,838.64 L867.21,839.00 L869.32,839.37 L871.43,839.73 L873.54,840.10 L875.65,840.46 L877.76,840.82 L879.87,841.17 L881.98,841.53 L884.09,841.88 L886.21,842.24 L888.32,842.59 L890.43,842.94 L892.54,843.29 L894.65,843.64 L896.76,843.98 L898.87,844.32 L900.98,844.67 L903.09,845.01 L905.20,845.35 L907.31,845.68 L909.43,846.02 L911.54,846.35 L913.65,846.68 L915.76,847.01 L917.87,847.34 L919.98,847.66 L922.09,847.99 L924.20,848.31 L926.31,848.63 L928.42,848.95 L930.54,849.26 L932.65,849.57 L934.76,849.88 L936.87,850.19 L938.98,850.49 L941.09,850.79 L943.20,851.09 L945.31,851.39 L947.42,851.68 L949.53,851.97 L951.64,852.26 L953.76,852.55 L955.87,852.83 L957.98,853.11 L960.09,853.38 L962.20,853.65 L964.31,853.92 L966.42,854.18 L968.53,854.44 L970.64,854.70 L972.75,854.95 L974.87,855.20 L976.98,855.44 L979.09,855.59 L981.20,855.59 L983.31,855.59 L985.42,855.59" stroke="#ff0000" stroke-width="3.2"/>
<path d="M551.10,557.20 L551.34,563.38 L551.58,566.97 L551.82,569.96 L552.07,572.60 L552.31,575.01 L552.55,577.25 L552.79,579.37 L553.03,581.38 L553.27,583.32 L553.51,585.19 L553.75,586.99 L554.00,588.73 L554.24,590.41 L554.48,592.03 L554.72,593.61 L554.96,595.14 L555.20,596.64 L555.44,598.09 L555.69,599.51 L555.93,600.90 L556.17,602.26 L556.41,603.59 L556.65,604.90 L556.89,606.20 L557.13,607.50 L557.38,608.79 L557.62,610.07 L557.86,611.34 L558.10,612.58 L558.34,613.81 L558.58,615.01 L558.82,616.18 L559.06,617.31 L559.31,618.41 L559.55,619.47 L559.79,620.52 L560.03,621.55 L560.27,622.57 L560.51,623.57 L560.75,624.55 L561.00,625.53 L561.24,626.49 L561.48,627.43 L561.72,628.36 L561.96,629.29 L562.20,630.19 L562.44,631.09 L562.69,631.98 L562.93,632.85 L563.17,633.72 L563.41,634.57 L563.65,635.41 L563.89,636.24 L564.13,637.07 L564.37,637.88 L564.62,638.68 L564.86,639.48 L565.10,640.26 L565.34,641.04 L567.45,647.49 L569.56,653.37 L571.67,658.78 L573.78,663.78 L575.89,668.42 L578.01,672.72 L580.12,676.70 L582.23,680.34 L584.34,683.70 L586.45,686.82 L588.56,689.76 L590.67,692.56 L592.78,695.24 L594.89,697.83 L597.00,700.29 L599.12,702.65 L601.23,704.90 L603.34,707.06 L605.45,709.14 L607.56,711.14 L609.67,713.08 L611.78,714.94 L613.89,716.75 L616.00,718.49 L618.11,720.18 L620.22,721.81 L622.34,723.39 L624.45,724.92 L626.56,726.40 L628.67,727.84 L630.78,729.23 L632.89,730.58 L635.00,731.89 L637.11,733.16 L639.22,734.39 L641.33,735.59 L643.45,736.76 L645.56,737.89 L647.67,738.99 L649.78,740.06 L651.89,741.10 L654.00,742.12 L656.11,743.10 L658.22,744.06 L660.33,745.00 L662.44,745.91 L664.55,746.80 L666.67,747.67 L668.78,748.51 L670.89,749.34 L673.00,750.14 L675.11,750.93 L677.22,751.69 L679.33,752.44 L681.44,753.17 L683.55,753.89 L685.66,754.59 L687.78,755.27 L689.89,755.94 L692.00,756.59 L694.11,757.23 L696.22,757.86 L698.33,758.47 L700.44,759.07 L702.55,759.66 L704.66,760.24 L706.77,760.80 L708.88,761.36 L711.00,761.90 L713.11,762.44 L715.22,762.96 L717.33,763.48 L719.44,763.99 L721.55,764.48 L723.66,764.97 L725.77,765.45 L727.88,765.93 L729.99,766.39 L732.11,766.85 L734.22,767.30 L736.33,767.75 L738.44,768.19 L740.55,768.62 L742.66,769.04 L744.77,769.46 L746.88,769.88 L748.99,770.29 L751.10,770.69 L753.21,771.09 L755.33,771.48 L757.44,771.87 L759.55,772.25 L761.66,772.63 L763.77,773.01 L765.88,773.38 L767.99,773.75 L770.10,774.11 L772.21,774.47 L774.32,774.83 L776.44,775.18 L778.55,775.53 L780.66,775.88 L782.77,776.22 L784.88,776.56 L786.99,776.90 L789.10,777.24 L791.21,777.57 L793.32,777.90 L795.43,778.22 L797.55,778.55 L799.66,778.87 L801.77,779.19 L803.88,779.51 L805.99,779.82 L808.10,780.14 L810.21,780.45 L812.32,780.75 L814.43,781.06 L816.54,781.37 L818.65,781.67 L820.77,781.97 L822.88,782.27 L824.99,782.56 L827.10,782.86 L829.21,783.15 L831.32,783.44 L833.43,783.73 L835.54,784.02 L837.65,784.30 L839.76,784.59 L841.88,784.87 L843.99,785.15 L846.10,785.42 L848.21,785.70 L850.32,785.97 L852.43,786.25 L854.54,786.52 L856.65,786.78 L858.76,787.05 L860.87,787.31 L862.98,787.58 L865.10,787.84 L867.21,788.09 L869.32,788.35 L871.43,788.60 L873.54,788.85 L875.65,789.10 L877.76,789.35 L879.87,789.59 L881.98,789.83 L884.09,790.07 L886.21,790.31 L888.32,790.54 L890.43,790.77 L892.54,791.00 L894.65,791.22 L896.76,791.44 L898.87,791.66 L900.98,791.88 L903.09,792.09 L905.20,792.30 L907.31,792.51 L909.43,792.71 L911.54,792.91 L913.65,793.10 L915.76,793.30 L917.87,793.48 L919.98,793.67 L922.09,793.85 L924.20,794.02 L926.31,794.20 L928.42,794.36 L930.54,794.53 L932.65,794.69 L934.76,794.84 L936.87,794.99 L938.98,795.14 L941.09,795.28 L943.20,795.41 L945.31,795.54 L947.42,795.66 L949.53,795.78 L951.64,795.90 L953.76,796.01 L955.87,796.11 L957.98,796.20 L960.09,796.29 L962.20,796.38 L964.31,796.46 L966.42,796.53 L968.53,796.59 L970.64,796.65 L972.75,796.70 L974.87,796.75 L976.98,796.79 L979.09,796.81 L981.20,796.81 L983.31,796.81 L985.42,796.81" stroke="#ff0000" stroke-width="3.2"/>
<path d="M551.10,557.20 L551.34,563.80 L551.58,568.10 L551.82,571.80 L552.07,575.17 L552.31,578.31 L552.55,581.27 L552.79,584.11 L553.03,586.83 L553.27,589.47 L553.51,592.04 L553.75,594.52 L554.00,596.94 L554.24,599.29 L554.48,601.58 L554.72,603.81 L554.96,606.00 L555.20,608.14 L555.44,610.23 L555.69,612.28 L555.93,614.29 L556.17,616.27 L556.41,618.21 L556.65,620.12 L556.89,622.02 L557.13,623.91 L557.38,625.78 L557.62,627.64 L557.86,629.48 L558.10,631.29 L558.34,633.08 L558.58,634.83 L558.82,636.55 L559.06,638.24 L559.31,639.88 L559.55,641.48 L559.79,643.06 L560.03,644.62 L560.27,646.16 L560.51,647.68 L560.75,649.19 L561.00,650.67 L561.24,652.14 L561.48,653.59 L561.72,655.02 L561.96,656.44 L562.20,657.84 L562.44,659.22 L562.69,660.59 L562.93,661.95 L563.17,663.29 L563.41,664.61 L563.65,665.93 L563.89,667.23 L564.13,668.51 L564.37,669.78 L564.62,671.04 L564.86,672.29 L565.10,673.52 L565.34,674.75 L567.45,684.97 L569.56,694.41 L571.67,703.19 L573.78,711.39 L575.89,719.06 L578.01,726.27 L580.12,733.04 L582.23,739.39 L584.34,745.37 L586.45,751.03 L588.56,756.41 L590.67,761.57 L592.78,766.54 L594.89,771.35 L597.00,775.97 L599.12,780.42 L601.23,784.69 L603.34,788.82 L605.45,792.80 L607.56,796.64 L609.67,800.35 L611.78,803.95 L613.89,807.43 L616.00,810.80 L618.11,814.07 L620.22,817.25 L622.34,820.33 L624.45,823.33 L626.56,826.24 L628.67,829.07 L630.78,831.82 L632.89,834.50 L635.00,837.11 L637.11,839.65 L639.22,842.13 L641.33,844.54 L643.45,846.89 L645.56,849.18 L647.67,851.41 L649.78,853.59 L651.89,855.72 L654.00,857.78 L656.11,859.79 L658.22,861.75 L660.33,863.67 L662.44,865.54 L664.55,867.38 L666.67,869.18 L668.78,870.94 L670.89,872.69 L673.00,874.40 L675.11,876.09 L677.22,877.76 L679.33,879.40 L681.44,881.01 L683.55,882.59 L685.66,884.15 L687.78,885.67 L689.89,887.17 L692.00,888.63 L694.11,890.07 L696.22,891.47 L698.33,892.86 L700.44,894.22 L702.55,895.55 L704.66,896.87 L706.77,898.16 L708.88,899.42 L711.00,900.66 L713.11,901.88 L715.22,903.08 L717.33,904.26 L719.44,905.41 L721.55,906.54 L723.66,907.64 L725.77,908.73 L727.88,909.79 L729.99,910.83 L732.11,911.85 L734.22,912.86 L736.33,913.85 L738.44,914.82 L740.55,915.78 L742.66,916.72 L744.77,917.65 L746.88,918.56 L748.99,919.46 L751.10,920.34 L753.21,921.22 L755.33,922.07 L757.44,922.92 L759.55,923.75 L761.66,924.57 L763.77,925.38 L765.88,926.17 L767.99,926.95 L770.10,927.72 L772.21,928.48 L774.32,929.23 L776.44,929.97 L778.55,930.69 L780.66,931.41 L782.77,932.11 L784.88,932.80 L786.99,933.49 L789.10,934.16 L791.21,934.83 L793.32,935.48 L795.43,936.13 L797.55,936.77 L799.66,937.39 L801.77,938.01 L803.88,938.62 L805.99,939.23 L808.10,939.82 L810.21,940.41 L812.32,941.00 L814.43,941.58 L816.54,942.16 L818.65,942.73 L820.77,943.29 L822.88,943.84 L824.99,944.39 L827.10,944.91 L829.21,945.43 L831.32,945.93 L833.43,946.43 L835.54,946.91 L837.65,947.38 L839.76,947.84 L841.88,948.29 L843.99,948.74 L846.10,949.18 L848.21,949.61 L850.32,950.04 L852.43,950.47 L854.54,950.89 L856.65,951.31 L858.76,951.73 L860.87,952.15 L862.98,952.57 L865.10,952.98 L867.21,953.38 L869.32,953.78 L871.43,954.18 L873.54,954.57 L875.65,954.95 L877.76,955.33 L879.87,955.70 L881.98,956.07 L884.09,956.43 L886.21,956.79 L888.32,957.14 L890.43,957.49 L892.54,957.84 L894.65,958.17 L896.76,958.51 L898.87,958.83 L900.98,959.16 L903.09,959.47 L905.20,959.79 L907.31,960.09 L909.43,960.39 L911.54,960.69 L913.65,960.98 L915.76,961.27 L917.87,961.55 L919.98,961.83 L922.09,962.10 L924.20,962.37 L926.31,962.64 L928.42,962.91 L930.54,963.17 L932.65,963.43 L934.76,963.69 L936.87,963.94 L938.98,964.19 L941.09,964.44 L943.20,964.69 L945.31,964.94 L947.42,965.19 L949.53,965.43 L951.64,965.68 L953.76,965.92 L955.87,966.16 L957.98,966.39 L960.09,966.63 L962.20,966.86 L964.31,967.08 L966.42,967.30 L968.53,967.52 L970.64,967.73 L972.75,967.94 L974.87,968.14 L976.98,968.34 L979.09,968.46 L981.20,968.46 L983.31,968.46 L985.42,968.46" stroke="#0000ff" stroke-width="3.2" stroke-dasharray="5.8 5.9" stroke-dashoffset="5.7"/>
<path d="M551.10,557.20 L551.34,563.47 L551.58,567.43 L551.82,570.82 L552.07,573.87 L552.31,576.69 L552.55,579.34 L552.79,581.87 L553.03,584.29 L553.27,586.63 L553.51,588.90 L553.75,591.10 L554.00,593.22 L554.24,595.28 L554.48,597.29 L554.72,599.24 L554.96,601.15 L555.20,603.01 L555.44,604.83 L555.69,606.61 L555.93,608.35 L556.17,610.06 L556.41,611.74 L556.65,613.39 L556.89,615.03 L557.13,616.67 L557.38,618.29 L557.62,619.90 L557.86,621.48 L558.10,623.05 L558.34,624.59 L558.58,626.10 L558.82,627.58 L559.06,629.02 L559.31,630.43 L559.55,631.79 L559.79,633.14 L560.03,634.47 L560.27,635.78 L560.51,637.07 L560.75,638.35 L561.00,639.60 L561.24,640.85 L561.48,642.07 L561.72,643.29 L561.96,644.48 L562.20,645.66 L562.44,646.83 L562.69,647.99 L562.93,649.13 L563.17,650.26 L563.41,651.37 L563.65,652.47 L563.89,653.56 L564.13,654.64 L564.37,655.71 L564.62,656.77 L564.86,657.81 L565.10,658.84 L565.34,659.87 L567.45,668.38 L569.56,676.22 L571.67,683.46 L573.78,690.19 L575.89,696.47 L578.01,702.33 L580.12,707.82 L582.23,712.93 L584.34,717.70 L586.45,722.20 L588.56,726.46 L590.67,730.54 L592.78,734.47 L594.89,738.28 L597.00,741.94 L599.12,745.45 L601.23,748.84 L603.34,752.09 L605.45,755.23 L607.56,758.26 L609.67,761.19 L611.78,764.02 L613.89,766.76 L616.00,769.42 L618.11,772.00 L620.22,774.51 L622.34,776.95 L624.45,779.32 L626.56,781.62 L628.67,783.86 L630.78,786.05 L632.89,788.17 L635.00,790.25 L637.11,792.27 L639.22,794.24 L641.33,796.16 L643.45,798.03 L645.56,799.86 L647.67,801.64 L649.78,803.39 L651.89,805.08 L654.00,806.73 L656.11,808.34 L658.22,809.90 L660.33,811.43 L662.44,812.93 L664.55,814.40 L666.67,815.85 L668.78,817.29 L670.89,818.71 L673.00,820.12 L675.11,821.52 L677.22,822.91 L679.33,824.28 L681.44,825.65 L683.55,826.99 L685.66,828.32 L687.78,829.62 L689.89,830.91 L692.00,832.17 L694.11,833.40 L696.22,834.62 L698.33,835.83 L700.44,837.02 L702.55,838.19 L704.66,839.35 L706.77,840.50 L708.88,841.63 L711.00,842.74 L713.11,843.83 L715.22,844.91 L717.33,845.97 L719.44,847.01 L721.55,848.04 L723.66,849.04 L725.77,850.03 L727.88,850.99 L729.99,851.94 L732.11,852.88 L734.22,853.80 L736.33,854.71 L738.44,855.61 L740.55,856.51 L742.66,857.39 L744.77,858.26 L746.88,859.13 L748.99,859.98 L751.10,860.82 L753.21,861.66 L755.33,862.49 L757.44,863.31 L759.55,864.12 L761.66,864.92 L763.77,865.72 L765.88,866.50 L767.99,867.28 L770.10,868.05 L772.21,868.82 L774.32,869.57 L776.44,870.32 L778.55,871.06 L780.66,871.80 L782.77,872.53 L784.88,873.25 L786.99,873.97 L789.10,874.68 L791.21,875.38 L793.32,876.08 L795.43,876.77 L797.55,877.46 L799.66,878.14 L801.77,878.82 L803.88,879.49 L805.99,880.16 L808.10,880.82 L810.21,881.49 L812.32,882.17 L814.43,882.84 L816.54,883.52 L818.65,884.20 L820.77,884.87 L822.88,885.53 L824.99,886.17 L827.10,886.81 L829.21,887.42 L831.32,888.01 L833.43,888.59 L835.54,889.15 L837.65,889.70 L839.76,890.23 L841.88,890.76 L843.99,891.28 L846.10,891.80 L848.21,892.31 L850.32,892.83 L852.43,893.34 L854.54,893.86 L856.65,894.39 L858.76,894.92 L860.87,895.47 L862.98,896.01 L865.10,896.55 L867.21,897.09 L869.32,897.62 L871.43,898.15 L873.54,898.68 L875.65,899.20 L877.76,899.72 L879.87,900.24 L881.98,900.75 L884.09,901.26 L886.21,901.77 L888.32,902.27 L890.43,902.76 L892.54,903.25 L894.65,903.74 L896.76,904.22 L898.87,904.69 L900.98,905.16 L903.09,905.63 L905.20,906.08 L907.31,906.53 L909.43,906.97 L911.54,907.40 L913.65,907.83 L915.76,908.25 L917.87,908.67 L919.98,909.09 L922.09,909.50 L924.20,909.91 L926.31,910.31 L928.42,910.72 L930.54,911.12 L932.65,911.53 L934.76,911.93 L936.87,912.34 L938.98,912.74 L941.09,913.15 L943.20,913.57 L945.31,913.99 L947.42,914.41 L949.53,914.84 L951.64,915.27 L953.76,915.70 L955.87,916.13 L957.98,916.56 L960.09,916.99 L962.20,917.41 L964.31,917.83 L966.42,918.24 L968.53,918.64 L970.64,919.03 L972.75,919.41 L974.87,919.79 L976.98,920.15 L979.09,920.37 L981.20,920.37 L983.31,920.37 L985.42,920.37" stroke="#0000ff" stroke-width="3.2" stroke-dasharray="5.8 5.9" stroke-dashoffset="3.6"/>
<path d="M551.10,557.20 L551.34,563.24 L551.58,566.98 L551.82,570.15 L552.07,572.98 L552.31,575.59 L552.55,578.03 L552.79,580.35 L553.03,582.56 L553.27,584.70 L553.51,586.76 L553.75,588.76 L554.00,590.68 L554.24,592.55 L554.48,594.36 L554.72,596.12 L554.96,597.83 L555.20,599.50 L555.44,601.13 L555.69,602.72 L555.93,604.28 L556.17,605.80 L556.41,607.29 L556.65,608.76 L556.89,610.22 L557.13,611.67 L557.38,613.12 L557.62,614.55 L557.86,615.96 L558.10,617.36 L558.34,618.73 L558.58,620.07 L558.82,621.37 L559.06,622.65 L559.31,623.88 L559.55,625.08 L559.79,626.26 L560.03,627.42 L560.27,628.56 L560.51,629.69 L560.75,630.80 L561.00,631.90 L561.24,632.98 L561.48,634.05 L561.72,635.10 L561.96,636.13 L562.20,637.16 L562.44,638.17 L562.69,639.17 L562.93,640.15 L563.17,641.13 L563.41,642.09 L563.65,643.04 L563.89,643.98 L564.13,644.90 L564.37,645.82 L564.62,646.72 L564.86,647.62 L565.10,648.50 L565.34,649.38 L567.45,656.63 L569.56,663.24 L571.67,669.31 L573.78,674.90 L575.89,680.07 L578.01,684.86 L580.12,689.31 L582.23,693.38 L584.34,697.15 L586.45,700.66 L588.56,703.96 L590.67,707.09 L592.78,710.09 L594.89,713.00 L597.00,715.77 L599.12,718.41 L601.23,720.94 L603.34,723.35 L605.45,725.66 L607.56,727.88 L609.67,730.01 L611.78,732.05 L613.89,734.01 L616.00,735.90 L618.11,737.73 L620.22,739.49 L622.34,741.19 L624.45,742.83 L626.56,744.42 L628.67,745.95 L630.78,747.44 L632.89,748.87 L635.00,750.26 L637.11,751.60 L639.22,752.90 L641.33,754.16 L643.45,755.37 L645.56,756.55 L647.67,757.69 L649.78,758.79 L651.89,759.85 L654.00,760.87 L656.11,761.84 L658.22,762.78 L660.33,763.68 L662.44,764.56 L664.55,765.42 L666.67,766.26 L668.78,767.10 L670.89,767.93 L673.00,768.76 L675.11,769.59 L677.22,770.42 L679.33,771.24 L681.44,772.06 L683.55,772.86 L685.66,773.65 L687.78,774.43 L689.89,775.19 L692.00,775.93 L694.11,776.65 L696.22,777.35 L698.33,778.05 L700.44,778.74 L702.55,779.41 L704.66,780.08 L706.77,780.74 L708.88,781.38 L711.00,782.01 L713.11,782.63 L715.22,783.23 L717.33,783.82 L719.44,784.39 L721.55,784.94 L723.66,785.48 L725.77,786.00 L727.88,786.50 L729.99,786.98 L732.11,787.45 L734.22,787.91 L736.33,788.36 L738.44,788.81 L740.55,789.25 L742.66,789.68 L744.77,790.11 L746.88,790.53 L748.99,790.94 L751.10,791.35 L753.21,791.75 L755.33,792.15 L757.44,792.54 L759.55,792.93 L761.66,793.31 L763.77,793.69 L765.88,794.06 L767.99,794.42 L770.10,794.78 L772.21,795.14 L774.32,795.49 L776.44,795.84 L778.55,796.18 L780.66,796.52 L782.77,796.86 L784.88,797.19 L786.99,797.52 L789.10,797.85 L791.21,798.17 L793.32,798.49 L795.43,798.81 L797.55,799.13 L799.66,799.44 L801.77,799.75 L803.88,800.06 L805.99,800.37 L808.10,800.68 L810.21,801.01 L812.32,801.36 L814.43,801.72 L816.54,802.08 L818.65,802.45 L820.77,802.81 L822.88,803.17 L824.99,803.51 L827.10,803.82 L829.21,804.11 L831.32,804.38 L833.43,804.61 L835.54,804.82 L837.65,805.01 L839.76,805.18 L841.88,805.35 L843.99,805.50 L846.10,805.66 L848.21,805.82 L850.32,805.98 L852.43,806.15 L854.54,806.33 L856.65,806.53 L858.76,806.76 L860.87,807.00 L862.98,807.26 L865.10,807.51 L867.21,807.76 L869.32,808.02 L871.43,808.27 L873.54,808.53 L875.65,808.78 L877.76,809.03 L879.87,809.28 L881.98,809.53 L884.09,809.77 L886.21,810.01 L888.32,810.25 L890.43,810.49 L892.54,810.72 L894.65,810.95 L896.76,811.17 L898.87,811.39 L900.98,811.60 L903.09,811.80 L905.20,811.99 L907.31,812.16 L909.43,812.33 L911.54,812.49 L913.65,812.64 L915.76,812.79 L917.87,812.93 L919.98,813.06 L922.09,813.20 L924.20,813.33 L926.31,813.47 L928.42,813.60 L930.54,813.74 L932.65,813.89 L934.76,814.03 L936.87,814.19 L938.98,814.35 L941.09,814.52 L943.20,814.72 L945.31,814.94 L947.42,815.17 L949.53,815.41 L951.64,815.67 L953.76,815.94 L955.87,816.21 L957.98,816.48 L960.09,816.75 L962.20,817.02 L964.31,817.27 L966.42,817.52 L968.53,817.76 L970.64,817.97 L972.75,818.17 L974.87,818.35 L976.98,818.50 L979.09,818.58 L981.20,818.58 L983.31,818.58 L985.42,818.58" stroke="#0000ff" stroke-width="3.2" stroke-dasharray="5.8 5.9" stroke-dashoffset="2.6"/>
<path d="M551.10,557.20 L551.34,563.07 L551.58,566.64 L551.82,569.64 L552.07,572.31 L552.31,574.75 L552.55,577.04 L552.79,579.19 L553.03,581.25 L553.27,583.23 L553.51,585.14 L553.75,586.98 L554.00,588.75 L554.24,590.46 L554.48,592.12 L554.72,593.73 L554.96,595.30 L555.20,596.82 L555.44,598.30 L555.69,599.75 L555.93,601.16 L556.17,602.54 L556.41,603.89 L556.65,605.21 L556.89,606.54 L557.13,607.85 L557.38,609.16 L557.62,610.45 L557.86,611.73 L558.10,612.99 L558.34,614.22 L558.58,615.42 L558.82,616.60 L559.06,617.74 L559.31,618.84 L559.55,619.91 L559.79,620.95 L560.03,621.98 L560.27,623.00 L560.51,624.00 L560.75,624.98 L561.00,625.95 L561.24,626.90 L561.48,627.84 L561.72,628.77 L561.96,629.68 L562.20,630.58 L562.44,631.46 L562.69,632.34 L562.93,633.20 L563.17,634.05 L563.41,634.89 L563.65,635.71 L563.89,636.53 L564.13,637.33 L564.37,638.13 L564.62,638.91 L564.86,639.69 L565.10,640.45 L565.34,641.21 L567.45,647.44 L569.56,653.06 L571.67,658.15 L573.78,662.80 L575.89,667.04 L578.01,670.92 L580.12,674.46 L582.23,677.65 L584.34,680.54 L586.45,683.18 L588.56,685.62 L590.67,687.89 L592.78,690.06 L594.89,692.13 L597.00,694.09 L599.12,695.92 L601.23,697.63 L603.34,699.24 L605.45,700.76 L607.56,702.18 L609.67,703.52 L611.78,704.78 L613.89,705.96 L616.00,707.08 L618.11,708.13 L620.22,709.12 L622.34,710.05 L624.45,710.93 L626.56,711.76 L628.67,712.53 L630.78,713.26 L632.89,713.94 L635.00,714.57 L637.11,715.16 L639.22,715.70 L641.33,716.21 L643.45,716.67 L645.56,717.09 L647.67,717.48 L649.78,717.82 L651.89,718.13 L654.00,718.39 L656.11,718.60 L658.22,718.77 L660.33,718.91 L662.44,719.02 L664.55,719.12 L666.67,719.19 L668.78,719.26 L670.89,719.33 L673.00,719.40 L675.11,719.48 L677.22,719.56 L679.33,719.63 L681.44,719.71 L683.55,719.77 L685.66,719.82 L687.78,719.85 L689.89,719.87 L692.00,719.86 L694.11,719.82 L696.22,719.78 L698.33,719.73 L700.44,719.67 L702.55,719.60 L704.66,719.52 L706.77,719.42 L708.88,719.32 L711.00,719.19 L713.11,719.06 L715.22,718.90 L717.33,718.73 L719.44,718.54 L721.55,718.33 L723.66,718.10 L725.77,717.84 L727.88,717.56 L729.99,717.26 L732.11,716.94 L734.22,716.61 L736.33,716.27 L738.44,715.93 L740.55,715.57 L742.66,715.21 L744.77,714.84 L746.88,714.46 L748.99,714.08 L751.10,713.68 L753.21,713.28 L755.33,712.87 L757.44,712.46 L759.55,712.04 L761.66,711.61 L763.77,711.17 L765.88,710.73 L767.99,710.28 L770.10,709.82 L772.21,709.36 L774.32,708.89 L776.44,708.41 L778.55,707.93 L780.66,707.44 L782.77,706.95 L784.88,706.45 L786.99,705.95 L789.10,705.44 L791.21,704.93 L793.32,704.41 L795.43,703.89 L797.55,703.37 L799.66,702.84 L801.77,702.31 L803.88,701.78 L805.99,701.25 L808.10,700.71 L810.21,700.21 L812.32,699.73 L814.43,699.27 L816.54,698.83 L818.65,698.39 L820.77,697.94 L822.88,697.47 L824.99,696.98 L827.10,696.46 L829.21,695.90 L831.32,695.29 L833.43,694.63 L835.54,693.93 L837.65,693.20 L839.76,692.44 L841.88,691.67 L843.99,690.88 L846.10,690.09 L848.21,689.29 L850.32,688.50 L852.43,687.73 L854.54,686.98 L856.65,686.25 L858.76,685.56 L860.87,684.91 L862.98,684.26 L865.10,683.62 L867.21,682.98 L869.32,682.34 L871.43,681.70 L873.54,681.05 L875.65,680.40 L877.76,679.75 L879.87,679.10 L881.98,678.44 L884.09,677.78 L886.21,677.11 L888.32,676.43 L890.43,675.75 L892.54,675.06 L894.65,674.36 L896.76,673.65 L898.87,672.93 L900.98,672.20 L903.09,671.45 L905.20,670.67 L907.31,669.87 L909.43,669.05 L911.54,668.21 L913.65,667.36 L915.76,666.50 L917.87,665.62 L919.98,664.74 L922.09,663.85 L924.20,662.96 L926.31,662.06 L928.42,661.17 L930.54,660.27 L932.65,659.39 L934.76,658.51 L936.87,657.64 L938.98,656.78 L941.09,655.95 L943.20,655.15 L945.31,654.39 L947.42,653.67 L949.53,652.97 L951.64,652.29 L953.76,651.63 L955.87,650.97 L957.98,650.32 L960.09,649.67 L962.20,649.00 L964.31,648.32 L966.42,647.62 L968.53,646.89 L970.64,646.13 L972.75,645.32 L974.87,644.47 L976.98,643.56 L979.09,642.96 L981.20,642.96 L983.31,642.96 L985.42,642.96" stroke="#0000ff" stroke-width="3.2" stroke-dasharray="5.8 5.9" stroke-dashoffset="2.6"/>
</g>
<path d="M141.48,426.40 v-7.7 M141.48,13.50 v7.7 M185.08,426.40 v-4.7 M185.08,13.50 v4.7 M210.58,426.40 v-4.7 M210.58,13.50 v4.7 M228.68,426.40 v-4.7 M228.68,13.50 v4.7 M242.71,426.40 v-4.7 M242.71,13.50 v4.7 M254.18,426.40 v-4.7 M254.18,13.50 v4.7 M263.88,426.40 v-4.7 M263.88,13.50 v4.7 M272.27,426.40 v-4.7 M272.27,13.50 v4.7 M279.68,426.40 v-4.7 M279.68,13.50 v4.7 M286.31,426.40 v-7.7 M286.31,13.50 v7.7 M329.91,426.40 v-4.7 M329.91,13.50 v4.7 M355.41,426.40 v-4.7 M355.41,13.50 v4.7 M373.51,426.40 v-4.7 M373.51,13.50 v4.7 M387.54,426.40 v-4.7 M387.54,13.50 v4.7 M399.01,426.40 v-4.7 M399.01,13.50 v4.7 M408.71,426.40 v-4.7 M408.71,13.50 v4.7 M417.10,426.40 v-4.7 M417.10,13.50 v4.7 M424.51,426.40 v-4.7 M424.51,13.50 v4.7 M431.14,426.40 v-7.7 M431.14,13.50 v7.7 M474.74,426.40 v-4.7 M474.74,13.50 v4.7 M500.24,426.40 v-4.7 M500.24,13.50 v4.7 M518.34,426.40 v-4.7 M518.34,13.50 v4.7 M532.37,426.40 v-4.7 M532.37,13.50 v4.7 M543.84,426.40 v-4.7 M543.84,13.50 v4.7 M553.54,426.40 v-4.7 M553.54,13.50 v4.7 M561.93,426.40 v-4.7 M561.93,13.50 v4.7 M569.34,426.40 v-4.7 M569.34,13.50 v4.7 M575.97,426.40 v-7.7 M575.97,13.50 v7.7 M619.57,426.40 v-4.7 M619.57,13.50 v4.7 M645.07,426.40 v-4.7 M645.07,13.50 v4.7 M663.17,426.40 v-4.7 M663.17,13.50 v4.7 M677.20,426.40 v-4.7 M677.20,13.50 v4.7 M688.67,426.40 v-4.7 M688.67,13.50 v4.7 M698.37,426.40 v-4.7 M698.37,13.50 v4.7 M706.76,426.40 v-4.7 M706.76,13.50 v4.7 M714.17,426.40 v-4.7 M714.17,13.50 v4.7 M720.80,426.40 v-7.7 M720.80,13.50 v7.7 M764.40,426.40 v-4.7 M764.40,13.50 v4.7 M789.90,426.40 v-4.7 M789.90,13.50 v4.7 M808.00,426.40 v-4.7 M808.00,13.50 v4.7 M822.03,426.40 v-4.7 M822.03,13.50 v4.7 M833.50,426.40 v-4.7 M833.50,13.50 v4.7 M843.20,426.40 v-4.7 M843.20,13.50 v4.7 M851.59,426.40 v-4.7 M851.59,13.50 v4.7 M859.00,426.40 v-4.7 M859.00,13.50 v4.7 M865.63,426.40 v-7.7 M865.63,13.50 v7.7 M909.23,426.40 v-4.7 M909.23,13.50 v4.7 M934.73,426.40 v-4.7 M934.73,13.50 v4.7 M952.83,426.40 v-4.7 M952.83,13.50 v4.7 M966.86,426.40 v-4.7 M966.86,13.50 v4.7 M141.80,426.10 h7.5 M967.40,426.10 h-7.5 M141.80,401.27 h4.3 M967.40,401.27 h-4.3 M141.80,386.74 h4.3 M967.40,386.74 h-4.3 M141.80,376.43 h4.3 M967.40,376.43 h-4.3 M141.80,368.43 h4.3 M967.40,368.43 h-4.3 M141.80,361.90 h4.3 M967.40,361.90 h-4.3 M141.80,356.38 h4.3 M967.40,356.38 h-4.3 M141.80,351.60 h4.3 M967.40,351.60 h-4.3 M141.80,347.37 h4.3 M967.40,347.37 h-4.3 M141.80,343.60 h7.5 M967.40,343.60 h-7.5 M141.80,318.77 h4.3 M967.40,318.77 h-4.3 M141.80,304.24 h4.3 M967.40,304.24 h-4.3 M141.80,293.93 h4.3 M967.40,293.93 h-4.3 M141.80,285.93 h4.3 M967.40,285.93 h-4.3 M141.80,279.40 h4.3 M967.40,279.40 h-4.3 M141.80,273.88 h4.3 M967.40,273.88 h-4.3 M141.80,269.10 h4.3 M967.40,269.10 h-4.3 M141.80,264.87 h4.3 M967.40,264.87 h-4.3 M141.80,261.10 h7.5 M967.40,261.10 h-7.5 M141.80,236.27 h4.3 M967.40,236.27 h-4.3 M141.80,221.74 h4.3 M967.40,221.74 h-4.3 M141.80,211.43 h4.3 M967.40,211.43 h-4.3 M141.80,203.43 h4.3 M967.40,203.43 h-4.3 M141.80,196.90 h4.3 M967.40,196.90 h-4.3 M141.80,191.38 h4.3 M967.40,191.38 h-4.3 M141.80,186.60 h4.3 M967.40,186.60 h-4.3 M141.80,182.37 h4.3 M967.40,182.37 h-4.3 M141.80,178.60 h7.5 M967.40,178.60 h-7.5 M141.80,153.77 h4.3 M967.40,153.77 h-4.3 M141.80,139.24 h4.3 M967.40,139.24 h-4.3 M141.80,128.93 h4.3 M967.40,128.93 h-4.3 M141.80,120.93 h4.3 M967.40,120.93 h-4.3 M141.80,114.40 h4.3 M967.40,114.40 h-4.3 M141.80,108.88 h4.3 M967.40,108.88 h-4.3 M141.80,104.10 h4.3 M967.40,104.10 h-4.3 M141.80,99.87 h4.3 M967.40,99.87 h-4.3 M141.80,96.10 h7.5 M967.40,96.10 h-7.5 M141.80,71.27 h4.3 M967.40,71.27 h-4.3 M141.80,56.74 h4.3 M967.40,56.74 h-4.3 M141.80,46.43 h4.3 M967.40,46.43 h-4.3 M141.80,38.43 h4.3 M967.40,38.43 h-4.3 M141.80,31.90 h4.3 M967.40,31.90 h-4.3 M141.80,26.38 h4.3 M967.40,26.38 h-4.3 M141.80,21.60 h4.3 M967.40,21.60 h-4.3 M141.80,17.37 h4.3 M967.40,17.37 h-4.3 M141.80,13.60 h7.5 M967.40,13.60 h-7.5" stroke="#5e5e5e" stroke-width="1.5" fill="none"/>
<rect x="141.80" y="13.50" width="825.60" height="412.90" fill="none" stroke="#5e5e5e" stroke-width="1.5"/>
<path d="M71.90,984.00 v-5.6 M71.90,557.20 v5.6 M93.20,984.00 v-3.5 M93.20,557.20 v3.5 M114.49,984.00 v-3.5 M114.49,557.20 v3.5 M135.78,984.00 v-3.5 M135.78,557.20 v3.5 M157.08,984.00 v-5.6 M157.08,557.20 v5.6 M178.38,984.00 v-3.5 M178.38,557.20 v3.5 M199.67,984.00 v-3.5 M199.67,557.20 v3.5 M220.97,984.00 v-3.5 M220.97,557.20 v3.5 M242.26,984.00 v-5.6 M242.26,557.20 v5.6 M263.56,984.00 v-3.5 M263.56,557.20 v3.5 M284.85,984.00 v-3.5 M284.85,557.20 v3.5 M306.14,984.00 v-3.5 M306.14,557.20 v3.5 M327.44,984.00 v-5.6 M327.44,557.20 v5.6 M348.74,984.00 v-3.5 M348.74,557.20 v3.5 M370.03,984.00 v-3.5 M370.03,557.20 v3.5 M391.33,984.00 v-3.5 M391.33,557.20 v3.5 M412.62,984.00 v-5.6 M412.62,557.20 v5.6 M433.91,984.00 v-3.5 M433.91,557.20 v3.5 M455.21,984.00 v-3.5 M455.21,557.20 v3.5 M476.50,984.00 v-3.5 M476.50,557.20 v3.5 M497.80,984.00 v-5.6 M497.80,557.20 v5.6 M551.10,984.00 v-5.6 M551.10,557.20 v5.6 M565.34,984.00 v-3.5 M565.34,557.20 v3.5 M579.58,984.00 v-3.5 M579.58,557.20 v3.5 M593.82,984.00 v-3.5 M593.82,557.20 v3.5 M608.06,984.00 v-3.5 M608.06,557.20 v3.5 M622.30,984.00 v-5.6 M622.30,557.20 v5.6 M636.54,984.00 v-3.5 M636.54,557.20 v3.5 M650.78,984.00 v-3.5 M650.78,557.20 v3.5 M665.02,984.00 v-3.5 M665.02,557.20 v3.5 M679.26,984.00 v-3.5 M679.26,557.20 v3.5 M693.50,984.00 v-5.6 M693.50,557.20 v5.6 M707.74,984.00 v-3.5 M707.74,557.20 v3.5 M721.98,984.00 v-3.5 M721.98,557.20 v3.5 M736.22,984.00 v-3.5 M736.22,557.20 v3.5 M750.46,984.00 v-3.5 M750.46,557.20 v3.5 M764.70,984.00 v-5.6 M764.70,557.20 v5.6 M778.94,984.00 v-3.5 M778.94,557.20 v3.5 M793.18,984.00 v-3.5 M793.18,557.20 v3.5 M807.42,984.00 v-3.5 M807.42,557.20 v3.5 M821.66,984.00 v-3.5 M821.66,557.20 v3.5 M835.90,984.00 v-5.6 M835.90,557.20 v5.6 M850.14,984.00 v-3.5 M850.14,557.20 v3.5 M864.38,984.00 v-3.5 M864.38,557.20 v3.5 M878.62,984.00 v-3.5 M878.62,557.20 v3.5 M892.86,984.00 v-3.5 M892.86,557.20 v3.5 M907.10,984.00 v-5.6 M907.10,557.20 v5.6 M921.34,984.00 v-3.5 M921.34,557.20 v3.5 M935.58,984.00 v-3.5 M935.58,557.20 v3.5 M949.82,984.00 v-3.5 M949.82,557.20 v3.5 M964.06,984.00 v-3.5 M964.06,557.20 v3.5 M978.30,984.00 v-5.6 M978.30,557.20 v5.6 M71.90,984.00 h5.6 M497.80,984.00 h-5.6 M551.10,984.00 h5.6 M978.30,984.00 h-5.6 M71.90,962.66 h3.5 M497.80,962.66 h-3.5 M551.10,962.66 h3.5 M978.30,962.66 h-3.5 M71.90,941.32 h3.5 M497.80,941.32 h-3.5 M551.10,941.32 h3.5 M978.30,941.32 h-3.5 M71.90,919.98 h3.5 M497.80,919.98 h-3.5 M551.10,919.98 h3.5 M978.30,919.98 h-3.5 M71.90,898.64 h5.6 M497.80,898.64 h-5.6 M551.10,898.64 h5.6 M978.30,898.64 h-5.6 M71.90,877.30 h3.5 M497.80,877.30 h-3.5 M551.10,877.30 h3.5 M978.30,877.30 h-3.5 M71.90,855.96 h3.5 M497.80,855.96 h-3.5 M551.10,855.96 h3.5 M978.30,855.96 h-3.5 M71.90,834.62 h3.5 M497.80,834.62 h-3.5 M551.10,834.62 h3.5 M978.30,834.62 h-3.5 M71.90,813.28 h5.6 M497.80,813.28 h-5.6 M551.10,813.28 h5.6 M978.30,813.28 h-5.6 M71.90,791.94 h3.5 M497.80,791.94 h-3.5 M551.10,791.94 h3.5 M978.30,791.94 h-3.5 M71.90,770.60 h3.5 M497.80,770.60 h-3.5 M551.10,770.60 h3.5 M978.30,770.60 h-3.5 M71.90,749.26 h3.5 M497.80,749.26 h-3.5 M551.10,749.26 h3.5 M978.30,749.26 h-3.5 M71.90,727.92 h5.6 M497.80,727.92 h-5.6 M551.10,727.92 h5.6 M978.30,727.92 h-5.6 M71.90,706.58 h3.5 M497.80,706.58 h-3.5 M551.10,706.58 h3.5 M978.30,706.58 h-3.5 M71.90,685.24 h3.5 M497.80,685.24 h-3.5 M551.10,685.24 h3.5 M978.30,685.24 h-3.5 M71.90,663.90 h3.5 M497.80,663.90 h-3.5 M551.10,663.90 h3.5 M978.30,663.90 h-3.5 M71.90,642.56 h5.6 M497.80,642.56 h-5.6 M551.10,642.56 h5.6 M978.30,642.56 h-5.6 M71.90,621.22 h3.5 M497.80,621.22 h-3.5 M551.10,621.22 h3.5 M978.30,621.22 h-3.5 M71.90,599.88 h3.5 M497.80,599.88 h-3.5 M551.10,599.88 h3.5 M978.30,599.88 h-3.5 M71.90,578.54 h3.5 M497.80,578.54 h-3.5 M551.10,578.54 h3.5 M978.30,578.54 h-3.5 M71.90,557.20 h5.6 M497.80,557.20 h-5.6 M551.10,557.20 h5.6 M978.30,557.20 h-5.6" stroke="#7a7a7a" stroke-width="1.1" fill="none"/>
<rect x="71.90" y="557.20" width="425.90" height="426.80" fill="none" stroke="#8a8a8a" stroke-width="1.4"/>
<rect x="551.10" y="557.20" width="427.20" height="426.80" fill="none" stroke="#8a8a8a" stroke-width="1.4"/>
<text x="133.6" y="26.00" font-family="Liberation Serif" font-weight="bold" fill="#666" font-size="36" text-anchor="end">10</text>
<text x="133.6" y="108.50" font-family="Liberation Serif" font-weight="bold" fill="#666" font-size="36" text-anchor="end">1</text>
<text x="133.6" y="191.00" font-family="Liberation Serif" font-weight="bold" fill="#666" font-size="36" text-anchor="end">0.100</text>
<text x="133.6" y="273.50" font-family="Liberation Serif" font-weight="bold" fill="#666" font-size="36" text-anchor="end">0.010</text>
<text x="133.6" y="356.00" font-family="Liberation Serif" font-weight="bold" fill="#666" font-size="36" text-anchor="end">0.001</text>
<text x="286.31" y="466.2" font-family="Liberation Serif" font-weight="bold" fill="#666" font-size="36" text-anchor="middle">0.001</text>
<text x="431.14" y="466.2" font-family="Liberation Serif" font-weight="bold" fill="#666" font-size="36" text-anchor="middle">0.010</text>
<text x="575.97" y="466.2" font-family="Liberation Serif" font-weight="bold" fill="#666" font-size="36" text-anchor="middle">0.100</text>
<text x="720.80" y="466.2" font-family="Liberation Serif" font-weight="bold" fill="#666" font-size="36" text-anchor="middle">1</text>
<text x="865.63" y="466.2" font-family="Liberation Serif" font-weight="bold" fill="#666" font-size="36" text-anchor="middle">10</text>
<text x="67.6" y="993.20" font-family="Liberation Serif" font-weight="bold" fill="#666" font-size="27" text-anchor="end">0.0</text>
<text x="546.6" y="993.20" font-family="Liberation Serif" font-weight="bold" fill="#666" font-size="27" text-anchor="end">0.0</text>
<text x="67.6" y="907.84" font-family="Liberation Serif" font-weight="bold" fill="#666" font-size="27" text-anchor="end">0.2</text>
<text x="546.6" y="907.84" font-family="Liberation Serif" font-weight="bold" fill="#666" font-size="27" text-anchor="end">0.2</text>
<text x="67.6" y="822.48" font-family="Liberation Serif" font-weight="bold" fill="#666" font-size="27" text-anchor="end">0.4</text>
<text x="546.6" y="822.48" font-family="Liberation Serif" font-weight="bold" fill="#666" font-size="27" text-anchor="end">0.4</text>
<text x="67.6" y="737.12" font-family="Liberation Serif" font-weight="bold" fill="#666" font-size="27" text-anchor="end">0.6</text>
<text x="546.6" y="737.12" font-family="Liberation Serif" font-weight="bold" fill="#666" font-size="27" text-anchor="end">0.6</text>
<text x="67.6" y="651.76" font-family="Liberation Serif" font-weight="bold" fill="#666" font-size="27" text-anchor="end">0.8</text>
<text x="546.6" y="651.76" font-family="Liberation Serif" font-weight="bold" fill="#666" font-size="27" text-anchor="end">0.8</text>
<text x="67.6" y="566.40" font-family="Liberation Serif" font-weight="bold" fill="#666" font-size="27" text-anchor="end">1.0</text>
<text x="546.6" y="566.40" font-family="Liberation Serif" font-weight="bold" fill="#666" font-size="27" text-anchor="end">1.0</text>
<text x="71.90" y="1013.2" font-family="Liberation Serif" font-weight="bold" fill="#666" font-size="27" text-anchor="middle">0</text>
<text x="157.08" y="1013.2" font-family="Liberation Serif" font-weight="bold" fill="#666" font-size="27" text-anchor="middle">2</text>
<text x="242.26" y="1013.2" font-family="Liberation Serif" font-weight="bold" fill="#666" font-size="27" text-anchor="middle">4</text>
<text x="327.44" y="1013.2" font-family="Liberation Serif" font-weight="bold" fill="#666" font-size="27" text-anchor="middle">6</text>
<text x="412.62" y="1013.2" font-family="Liberation Serif" font-weight="bold" fill="#666" font-size="27" text-anchor="middle">8</text>
<text x="497.80" y="1013.2" font-family="Liberation Serif" font-weight="bold" fill="#666" font-size="27" text-anchor="middle">10</text>
<text x="551.10" y="1013.2" font-family="Liberation Serif" font-weight="bold" fill="#666" font-size="27" text-anchor="middle">0.0</text>
<text x="622.30" y="1013.2" font-family="Liberation Serif" font-weight="bold" fill="#666" font-size="27" text-anchor="middle">0.5</text>
<text x="693.50" y="1013.2" font-family="Liberation Serif" font-weight="bold" fill="#666" font-size="27" text-anchor="middle">1.0</text>
<text x="764.70" y="1013.2" font-family="Liberation Serif" font-weight="bold" fill="#666" font-size="27" text-anchor="middle">1.5</text>
<text x="835.90" y="1013.2" font-family="Liberation Serif" font-weight="bold" fill="#666" font-size="27" text-anchor="middle">2.0</text>
<text x="907.10" y="1013.2" font-family="Liberation Serif" font-weight="bold" fill="#666" font-size="27" text-anchor="middle">2.5</text>
<text x="978.30" y="1013.2" font-family="Liberation Serif" font-weight="bold" fill="#666" font-size="27" text-anchor="middle">3.0</text>
<text transform="translate(555.2,521) scale(1.33,1)" font-family="Liberation Serif" font-style="italic" fill="#666" stroke="#666" stroke-width="0.7" font-size="31" text-anchor="middle">β</text>
<text transform="translate(284.8,1051) scale(1.3,1)" font-family="Liberation Serif" font-style="italic" fill="#666" stroke="#666" stroke-width="0.6" font-size="25.5" text-anchor="middle">β</text>
<text transform="translate(764.6,1053) scale(1.12,1)" font-family="Liberation Serif" font-style="italic" fill="#666" stroke="#666" stroke-width="0.6" font-size="25.5" text-anchor="middle">α</text>
<text transform="translate(31.20,220.00) rotate(-90)" font-family="Liberation Serif" font-weight="bold" font-style="italic" fill="#666" font-size="36" text-anchor="middle">T<tspan font-size="25.20" dx="0.72" dy="5.40">c</tspan><tspan font-size="37.80" dx="1.80" dy="-1.80">/</tspan><tspan dx="0.00" dy="-3.60">T</tspan><tspan font-size="25.20" dy="5.40" font-style="normal">c1</tspan></text>
<text transform="translate(18.50,770.00) rotate(-90)" font-family="Liberation Serif" font-weight="bold" font-style="italic" fill="#666" font-size="26.8" text-anchor="middle">T<tspan font-size="18.76" dx="0.54" dy="4.02">c</tspan><tspan font-size="28.14" dx="1.34" dy="-1.34">/</tspan><tspan dx="0.00" dy="-2.68">T</tspan><tspan font-size="18.76" dy="4.02" font-style="normal">c1</tspan></text>
<text x="155.2" y="51.5" font-family="Liberation Sans" fill="#000" font-size="34">(a)</text>
<text x="79.9" y="593.5" font-family="Liberation Sans" fill="#000" font-size="34">(b)</text>
<text x="566.3" y="594.8" font-family="Liberation Sans" fill="#000" font-size="34">(c)</text>
<text x="285.50" y="286.20" font-family="Liberation Sans" font-weight="bold" font-size="27" fill="#ff0000" >Eq. (1)</text>
<text x="482.80" y="322.30" font-family="Liberation Sans" font-weight="bold" font-size="27" fill="#000000" >Eq. (10)</text>
<text x="331.80" y="374.40" font-family="Liberation Sans" font-weight="bold" font-size="27" fill="#00b050" >Eq. (7)</text>
<text x="261.20" y="411.90" font-family="Liberation Sans" font-weight="bold" font-size="27" fill="#0070c0" >Eq. (9)</text>
<text x="722.50" y="190.60" font-family="Liberation Sans" font-weight="bold" font-size="27" fill="#808080" >Eq. (8)</text>
<text x="180.80" y="581.50" font-family="Liberation Sans" font-weight="bold" font-size="24" fill="#0070c0" letter-spacing="0.3">Eq. (9)</text>
<text x="141.50" y="831.80" font-family="Liberation Sans" font-weight="bold" font-size="24" fill="#808080" letter-spacing="0.5">Eq. (8)</text>
<text x="0.00" y="0.00" font-family="Liberation Sans" font-weight="bold" font-size="24" fill="#ff0000" letter-spacing="0.6" transform="translate(187.5,644.5) rotate(-19)">Eq. (1) or (7)</text>
<text x="875.00" y="400.00" font-family="Liberation Serif" fill="#000" font-size="28.5" font-style="italic">α</text><text transform="translate(901.50,402.60) scale(1.25,1.12)" font-family="Liberation Serif" fill="#000" font-size="28.5" stroke="#000" stroke-width="0.35">=</text><text x="931.00" y="400.00" font-family="Liberation Serif" fill="#000" font-size="28.5">1</text>
<text x="417.00" y="965.50" font-family="Liberation Serif" fill="#000" font-size="29" font-style="italic">α</text><text transform="translate(443.50,968.10) scale(1.25,1.12)" font-family="Liberation Serif" fill="#000" font-size="29" stroke="#000" stroke-width="0.35">=</text><text x="473.50" y="965.50" font-family="Liberation Serif" fill="#000" font-size="29">1</text>
<rect x="232.5" y="29" width="288.5" height="202.6" rx="32" ry="32" fill="#fff" stroke="#000" stroke-width="1.6"/>
<path d="M245.60,91.50 C245.60,81.70 247.60,78.70 252.60,78.70 L357.40,78.70 C362.40,78.70 364.40,75.70 364.40,65.90 C364.40,75.70 366.40,78.70 371.40,78.70 L476.40,78.70 C481.40,78.70 483.40,81.70 483.40,91.50" fill="none" stroke="#ff0000" stroke-width="2"/>
<path d="M314.80,134.50 C314.80,124.70 316.80,121.70 321.80,121.70 L391.40,121.70 C396.40,121.70 398.40,118.70 398.40,108.90 C398.40,118.70 400.40,121.70 405.40,121.70 L474.90,121.70 C479.90,121.70 481.90,124.70 481.90,134.50" fill="none" stroke="#00b050" stroke-width="2"/>
<path d="M247.80,174.90 C247.80,166.60 249.80,163.60 254.80,163.60 L268.70,163.60 C273.70,163.60 275.70,160.60 275.70,152.30 C275.70,160.60 277.70,163.60 282.70,163.60 L296.60,163.60 C301.60,163.60 303.60,166.60 303.60,174.90" fill="none" stroke="#000000" stroke-width="2"/>
<path d="M309.20,174.90 C309.20,166.60 311.20,163.60 316.20,163.60 L345.60,163.60 C350.60,163.60 352.60,160.60 352.60,152.30 C352.60,160.60 354.60,163.60 359.60,163.60 L388.30,163.60 C393.30,163.60 395.30,166.60 395.30,174.90" fill="none" stroke="#0070c0" stroke-width="2"/>
<path d="M404.40,174.90 C404.40,166.60 406.40,163.60 411.40,163.60 L437.20,163.60 C442.20,163.60 444.20,160.60 444.20,152.30 C444.20,160.60 446.20,163.60 451.20,163.60 L476.40,163.60 C481.40,163.60 483.40,166.60 483.40,174.90" fill="none" stroke="#808080" stroke-width="2"/>
<text x="341.00" y="55.40" font-family="Liberation Sans" font-weight="bold" font-size="17.6" fill="#ff0000" letter-spacing="0.45">Eq. (1)</text>
<text x="370.00" y="104.70" font-family="Liberation Sans" font-weight="bold" font-size="17.6" fill="#00b050" letter-spacing="0.45">Eq. (7)</text>
<text x="241.80" y="146.10" font-family="Liberation Sans" font-weight="bold" font-size="17.6" fill="#000000" letter-spacing="0.45">Eq. (10)</text>
<text x="333.00" y="146.10" font-family="Liberation Sans" font-weight="bold" font-size="17.6" fill="#0070c0" letter-spacing="0.45">Eq. (9)</text>
<text x="422.00" y="146.10" font-family="Liberation Sans" font-weight="bold" font-size="17.6" fill="#808080" letter-spacing="0.45">Eq. (8)</text>
<path d="M247.8,192.8 H483" stroke="#000" stroke-width="1.5"/>
<path d="M490,192.8 L481,188.6 L481,197 Z" fill="#000"/>
<path d="M303.9,184.2 V201.1 M404.4,184.2 V201.1" stroke="#000" stroke-width="1.8"/>
<text x="499" y="201" font-family="Liberation Serif" fill="#000" font-size="18" font-style="italic">β</text>
<text x="297.5" y="222" font-family="Liberation Serif" fill="#000" font-size="18" font-style="italic">β<tspan font-size="14" font-style="normal" dx="1.2" dy="3">0</tspan></text>
<text x="395.5" y="222" font-family="Liberation Serif" fill="#000" font-size="18" font-style="italic">β<tspan font-size="14" font-style="normal" dx="1.2" dy="3">1</tspan></text>
<rect x="712.6" y="571.5" width="194.8" height="61.9" rx="9" ry="9" fill="#fff" stroke="#1f3464" stroke-width="1.3"/>
<path d="M725.1,588.3 H766" stroke="#0000ff" stroke-width="2.5" stroke-dasharray="4.7 4.3"/>
<path d="M724.4,618.3 H767.1" stroke="#ff0000" stroke-width="2.7" stroke-linecap="round"/>
<text x="780" y="595.4" font-family="Liberation Serif" font-weight="bold" fill="#000" font-size="21.7">Eq. (9)</text>
<text x="779" y="625.4" font-family="Liberation Serif" font-weight="bold" fill="#000" font-size="21.7">Eq. (1) or (7)</text>
<g transform="translate(895.00,738.00) rotate(0)" font-family="Liberation Serif" fill="#000"><text x="0" y="0" font-size="24.5" font-style="italic">β</text><text x="20.6" y="1.2" font-size="23.5" transform="scale(1.15,1.08)" stroke="#000" stroke-width="0.45">=</text><text x="47.6" y="0" font-size="23.5"  stroke="#000" stroke-width="0.25">1.4</text></g>
<g transform="translate(871.50,833.00) rotate(4.5)" font-family="Liberation Serif" fill="#000"><text x="0" y="0" font-size="24.5" font-style="italic">β</text><text x="21.5" y="1.2" font-size="23.5" transform="scale(1.15,1.08)" stroke="#000" stroke-width="0.45">=</text><text x="48.0" y="0" font-size="23.5" font-style="italic" stroke="#000" stroke-width="0.25">1.1</text></g>
<g transform="translate(824.00,914.50) rotate(14)" font-family="Liberation Serif" fill="#000"><text x="0" y="0" font-size="24.5" font-style="italic">β</text><text x="21.0" y="1.2" font-size="23.5" transform="scale(1.15,1.08)" stroke="#000" stroke-width="0.45">=</text><text x="48.0" y="0" font-size="23.5" font-style="italic" stroke="#000" stroke-width="0.25">0.8</text></g>
<g transform="translate(778.00,955.50) rotate(14)" font-family="Liberation Serif" fill="#000"><text x="0" y="0" font-size="24.5" font-style="italic">β</text><text x="21.0" y="1.2" font-size="23.5" transform="scale(1.15,1.08)" stroke="#000" stroke-width="0.45">=</text><text x="48.0" y="0" font-size="23.5" font-style="italic" stroke="#000" stroke-width="0.25">0.5</text></g>
<path d="M898.9,711.2 L888.5,687" stroke="#000" stroke-width="1" fill="none"/>
<path d="M886.5,682.6 L884.2,691.5 L890.6,688.8 Z" fill="#000"/>
<path d="M900.9,751.9 L890.3,770" stroke="#000" stroke-width="1" fill="none"/>
<path d="M886.5,776.5 L887.3,767.8 L893.2,771.4 Z" fill="#000"/>
<path d="M871.5,827 L839.8,824.8 V811" stroke="#000" stroke-width="1" fill="none"/>
<path d="M839.8,806.2 L836.6,813.5 L843,813.5 Z" fill="#000"/>
<path d="M949.1,833.9 L970.2,836.1 L969.2,846" stroke="#000" stroke-width="1" fill="none"/>
<path d="M968.9,850.2 L965.7,843 L972.2,843.2 Z" fill="#000"/>
</svg></body></html>
